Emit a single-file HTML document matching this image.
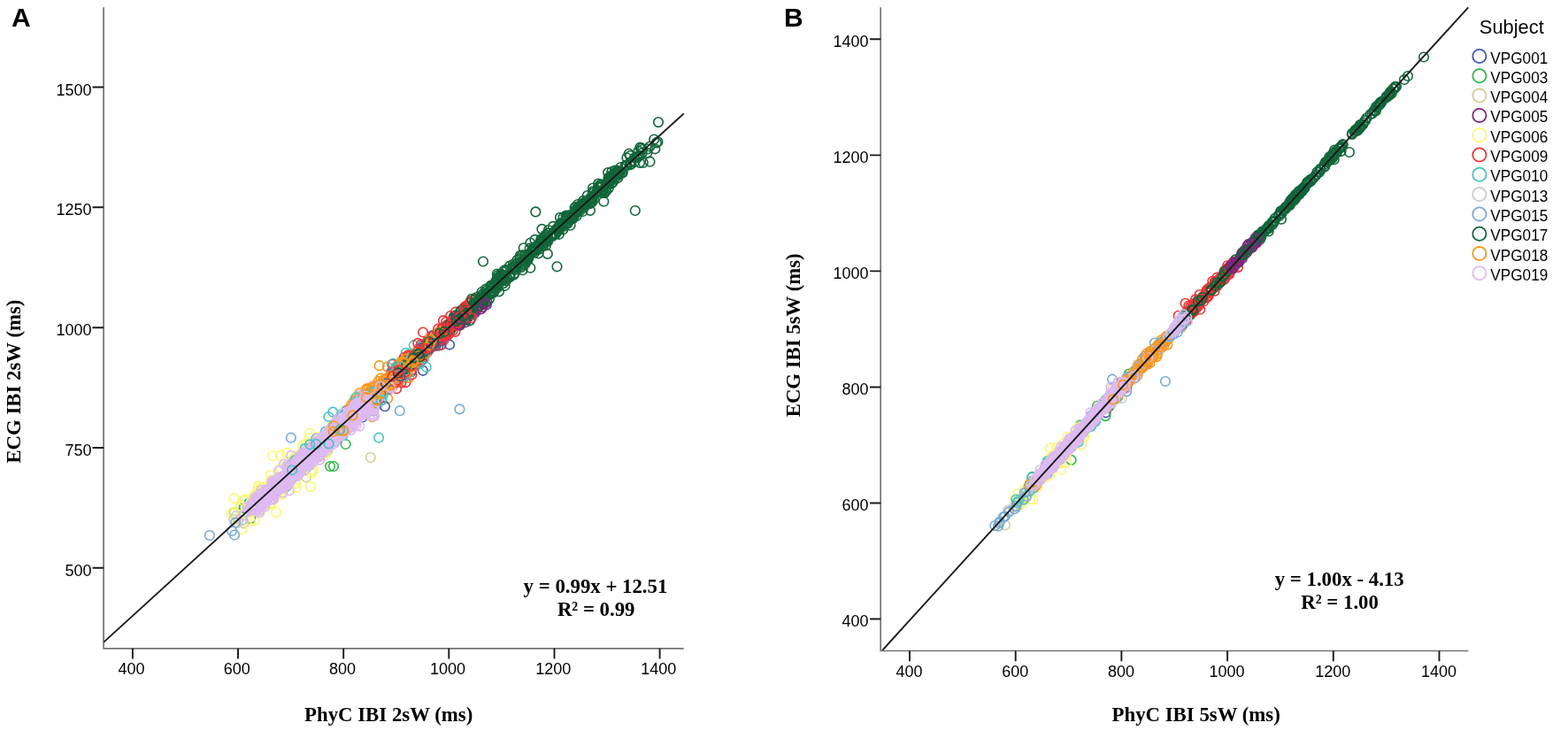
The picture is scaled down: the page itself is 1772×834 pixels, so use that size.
<!DOCTYPE html><html><head><meta charset="utf-8"><style>html,body{margin:0;padding:0;background:#fff;overflow:hidden;}svg{display:block}.t{font-family:"Liberation Sans",Arial,sans-serif;font-size:18px;fill:#000}.s{font-family:"Liberation Serif","Times New Roman",serif;font-weight:bold;font-size:22.8px;fill:#000}.p{font-family:"Liberation Sans",Arial,sans-serif;font-weight:bold;font-size:30px;fill:#000}.l{font-family:"Liberation Sans",Arial,sans-serif;font-size:18px;fill:#000}</style></head><body>
<svg width="1772" height="834" viewBox="0 0 1772 834">
<rect width="100%" height="100%" fill="#fff"/>
<defs>
<marker id="m0" markerUnits="userSpaceOnUse" markerWidth="16" markerHeight="16" refX="8" refY="8" overflow="visible"><circle cx="8" cy="8" r="5.3" fill="none" stroke="#3E58AC" stroke-width="1.6"/></marker>
<marker id="m1" markerUnits="userSpaceOnUse" markerWidth="16" markerHeight="16" refX="8" refY="8" overflow="visible"><circle cx="8" cy="8" r="5.3" fill="none" stroke="#2EB848" stroke-width="1.6"/></marker>
<marker id="m2" markerUnits="userSpaceOnUse" markerWidth="16" markerHeight="16" refX="8" refY="8" overflow="visible"><circle cx="8" cy="8" r="5.3" fill="none" stroke="#D3CE97" stroke-width="1.6"/></marker>
<marker id="m3" markerUnits="userSpaceOnUse" markerWidth="16" markerHeight="16" refX="8" refY="8" overflow="visible"><circle cx="8" cy="8" r="5.3" fill="none" stroke="#7C287D" stroke-width="1.6"/></marker>
<marker id="m4" markerUnits="userSpaceOnUse" markerWidth="16" markerHeight="16" refX="8" refY="8" overflow="visible"><circle cx="8" cy="8" r="5.3" fill="none" stroke="#FBF873" stroke-width="1.6"/></marker>
<marker id="m5" markerUnits="userSpaceOnUse" markerWidth="16" markerHeight="16" refX="8" refY="8" overflow="visible"><circle cx="8" cy="8" r="5.3" fill="none" stroke="#EF3338" stroke-width="1.6"/></marker>
<marker id="m6" markerUnits="userSpaceOnUse" markerWidth="16" markerHeight="16" refX="8" refY="8" overflow="visible"><circle cx="8" cy="8" r="5.3" fill="none" stroke="#48C2C5" stroke-width="1.6"/></marker>
<marker id="m7" markerUnits="userSpaceOnUse" markerWidth="16" markerHeight="16" refX="8" refY="8" overflow="visible"><circle cx="8" cy="8" r="5.3" fill="none" stroke="#CCCCCC" stroke-width="1.6"/></marker>
<marker id="m8" markerUnits="userSpaceOnUse" markerWidth="16" markerHeight="16" refX="8" refY="8" overflow="visible"><circle cx="8" cy="8" r="5.3" fill="none" stroke="#7AAAD5" stroke-width="1.6"/></marker>
<marker id="m9" markerUnits="userSpaceOnUse" markerWidth="16" markerHeight="16" refX="8" refY="8" overflow="visible"><circle cx="8" cy="8" r="5.3" fill="none" stroke="#12663A" stroke-width="1.6"/></marker>
<marker id="m10" markerUnits="userSpaceOnUse" markerWidth="16" markerHeight="16" refX="8" refY="8" overflow="visible"><circle cx="8" cy="8" r="5.3" fill="none" stroke="#F8981D" stroke-width="1.6"/></marker>
<marker id="m11" markerUnits="userSpaceOnUse" markerWidth="16" markerHeight="16" refX="8" refY="8" overflow="visible"><circle cx="8" cy="8" r="5.3" fill="none" stroke="#DDBAF1" stroke-width="1.6"/></marker>
</defs>
<path d="M408.4 460.3" fill="none" stroke="none" marker-start="url(#m11)" marker-mid="url(#m11)" marker-end="url(#m11)"/>
<path d="M425.9 437.2" fill="none" stroke="none" marker-start="url(#m10)" marker-mid="url(#m10)" marker-end="url(#m10)"/>
<path d="M457.7 416.3" fill="none" stroke="none" marker-start="url(#m9)" marker-mid="url(#m9)" marker-end="url(#m9)"/>
<path d="M406.5 463.5" fill="none" stroke="none" marker-start="url(#m11)" marker-mid="url(#m11)" marker-end="url(#m11)"/>
<path d="M497.6 385.6" fill="none" stroke="none" marker-start="url(#m5)" marker-mid="url(#m5)" marker-end="url(#m5)"/>
<path d="M413.4 455.2" fill="none" stroke="none" marker-start="url(#m10)" marker-mid="url(#m10)" marker-end="url(#m10)"/>
<path d="M443.3 411.7" fill="none" stroke="none" marker-start="url(#m5)" marker-mid="url(#m5)" marker-end="url(#m5)"/>
<path d="M408.8 462.1" fill="none" stroke="none" marker-start="url(#m10)" marker-mid="url(#m10)" marker-end="url(#m10)"/>
<path d="M500.7 378.4" fill="none" stroke="none" marker-start="url(#m0)" marker-mid="url(#m0)" marker-end="url(#m0)"/>
<path d="M367.7 487.9" fill="none" stroke="none" marker-start="url(#m6)" marker-mid="url(#m6)" marker-end="url(#m6)"/>
<path d="M409.2 455.8 443.2 420.5 460.3 416.8 459.1 416.7" fill="none" stroke="none" marker-start="url(#m10)" marker-mid="url(#m10)" marker-end="url(#m10)"/>
<path d="M408.7 457.7" fill="none" stroke="none" marker-start="url(#m11)" marker-mid="url(#m11)" marker-end="url(#m11)"/>
<path d="M457.1 423.2" fill="none" stroke="none" marker-start="url(#m6)" marker-mid="url(#m6)" marker-end="url(#m6)"/>
<path d="M482.1 394.2" fill="none" stroke="none" marker-start="url(#m10)" marker-mid="url(#m10)" marker-end="url(#m10)"/>
<path d="M495.5 380.9" fill="none" stroke="none" marker-start="url(#m9)" marker-mid="url(#m9)" marker-end="url(#m9)"/>
<path d="M412.2 449.2" fill="none" stroke="none" marker-start="url(#m6)" marker-mid="url(#m6)" marker-end="url(#m6)"/>
<path d="M526 364.2" fill="none" stroke="none" marker-start="url(#m3)" marker-mid="url(#m3)" marker-end="url(#m3)"/>
<path d="M473.5 393.2 461.6 410.6 526.4 345.8" fill="none" stroke="none" marker-start="url(#m5)" marker-mid="url(#m5)" marker-end="url(#m5)"/>
<path d="M488.8 379" fill="none" stroke="none" marker-start="url(#m0)" marker-mid="url(#m0)" marker-end="url(#m0)"/>
<path d="M382 477.2" fill="none" stroke="none" marker-start="url(#m6)" marker-mid="url(#m6)" marker-end="url(#m6)"/>
<path d="M497.3 378.3 516.4 363.4" fill="none" stroke="none" marker-start="url(#m5)" marker-mid="url(#m5)" marker-end="url(#m5)"/>
<path d="M331.3 527.2 453.2 419.3" fill="none" stroke="none" marker-start="url(#m6)" marker-mid="url(#m6)" marker-end="url(#m6)"/>
<path d="M490 390.5" fill="none" stroke="none" marker-start="url(#m5)" marker-mid="url(#m5)" marker-end="url(#m5)"/>
<path d="M420 438.5 422.2 454.8 401.3 464.9 413.5 452.4" fill="none" stroke="none" marker-start="url(#m10)" marker-mid="url(#m10)" marker-end="url(#m10)"/>
<path d="M433.4 437" fill="none" stroke="none" marker-start="url(#m11)" marker-mid="url(#m11)" marker-end="url(#m11)"/>
<path d="M478 390" fill="none" stroke="none" marker-start="url(#m5)" marker-mid="url(#m5)" marker-end="url(#m5)"/>
<path d="M386.3 478.4" fill="none" stroke="none" marker-start="url(#m6)" marker-mid="url(#m6)" marker-end="url(#m6)"/>
<path d="M407.9 460.3 431.6 439.4" fill="none" stroke="none" marker-start="url(#m11)" marker-mid="url(#m11)" marker-end="url(#m11)"/>
<path d="M496.5 382.2" fill="none" stroke="none" marker-start="url(#m10)" marker-mid="url(#m10)" marker-end="url(#m10)"/>
<path d="M521.3 357.5" fill="none" stroke="none" marker-start="url(#m5)" marker-mid="url(#m5)" marker-end="url(#m5)"/>
<path d="M446.9 419.6" fill="none" stroke="none" marker-start="url(#m10)" marker-mid="url(#m10)" marker-end="url(#m10)"/>
<path d="M419.1 453.6" fill="none" stroke="none" marker-start="url(#m11)" marker-mid="url(#m11)" marker-end="url(#m11)"/>
<path d="M505.1 367" fill="none" stroke="none" marker-start="url(#m5)" marker-mid="url(#m5)" marker-end="url(#m5)"/>
<path d="M406.1 460" fill="none" stroke="none" marker-start="url(#m11)" marker-mid="url(#m11)" marker-end="url(#m11)"/>
<path d="M483 393.5" fill="none" stroke="none" marker-start="url(#m9)" marker-mid="url(#m9)" marker-end="url(#m9)"/>
<path d="M442.1 429.1" fill="none" stroke="none" marker-start="url(#m5)" marker-mid="url(#m5)" marker-end="url(#m5)"/>
<path d="M453.4 432.5" fill="none" stroke="none" marker-start="url(#m11)" marker-mid="url(#m11)" marker-end="url(#m11)"/>
<path d="M459.4 411.8" fill="none" stroke="none" marker-start="url(#m10)" marker-mid="url(#m10)" marker-end="url(#m10)"/>
<path d="M464.6 420.1" fill="none" stroke="none" marker-start="url(#m0)" marker-mid="url(#m0)" marker-end="url(#m0)"/>
<path d="M402.5 457.6 406.2 465.4 393.3 476.3" fill="none" stroke="none" marker-start="url(#m10)" marker-mid="url(#m10)" marker-end="url(#m10)"/>
<path d="M356.8 512.1" fill="none" stroke="none" marker-start="url(#m6)" marker-mid="url(#m6)" marker-end="url(#m6)"/>
<path d="M434.8 437.7" fill="none" stroke="none" marker-start="url(#m11)" marker-mid="url(#m11)" marker-end="url(#m11)"/>
<path d="M387.9 484.7" fill="none" stroke="none" marker-start="url(#m10)" marker-mid="url(#m10)" marker-end="url(#m10)"/>
<path d="M329.4 530.8" fill="none" stroke="none" marker-start="url(#m6)" marker-mid="url(#m6)" marker-end="url(#m6)"/>
<path d="M489.5 391.7" fill="none" stroke="none" marker-start="url(#m10)" marker-mid="url(#m10)" marker-end="url(#m10)"/>
<path d="M446.2 425" fill="none" stroke="none" marker-start="url(#m9)" marker-mid="url(#m9)" marker-end="url(#m9)"/>
<path d="M410.9 461.3" fill="none" stroke="none" marker-start="url(#m10)" marker-mid="url(#m10)" marker-end="url(#m10)"/>
<path d="M472.4 401.5" fill="none" stroke="none" marker-start="url(#m5)" marker-mid="url(#m5)" marker-end="url(#m5)"/>
<path d="M433 434.1" fill="none" stroke="none" marker-start="url(#m11)" marker-mid="url(#m11)" marker-end="url(#m11)"/>
<path d="M494.1 386.2" fill="none" stroke="none" marker-start="url(#m5)" marker-mid="url(#m5)" marker-end="url(#m5)"/>
<path d="M487.4 386" fill="none" stroke="none" marker-start="url(#m10)" marker-mid="url(#m10)" marker-end="url(#m10)"/>
<path d="M524.2 350.4" fill="none" stroke="none" marker-start="url(#m5)" marker-mid="url(#m5)" marker-end="url(#m5)"/>
<path d="M437 427.8" fill="none" stroke="none" marker-start="url(#m10)" marker-mid="url(#m10)" marker-end="url(#m10)"/>
<path d="M512.7 358 514.7 359.1" fill="none" stroke="none" marker-start="url(#m9)" marker-mid="url(#m9)" marker-end="url(#m9)"/>
<path d="M478 375.5" fill="none" stroke="none" marker-start="url(#m5)" marker-mid="url(#m5)" marker-end="url(#m5)"/>
<path d="M420.7 441.3" fill="none" stroke="none" marker-start="url(#m10)" marker-mid="url(#m10)" marker-end="url(#m10)"/>
<path d="M499.9 370.6" fill="none" stroke="none" marker-start="url(#m5)" marker-mid="url(#m5)" marker-end="url(#m5)"/>
<path d="M425.8 439.8" fill="none" stroke="none" marker-start="url(#m6)" marker-mid="url(#m6)" marker-end="url(#m6)"/>
<path d="M403.7 460.5" fill="none" stroke="none" marker-start="url(#m10)" marker-mid="url(#m10)" marker-end="url(#m10)"/>
<path d="M526.1 356.9" fill="none" stroke="none" marker-start="url(#m9)" marker-mid="url(#m9)" marker-end="url(#m9)"/>
<path d="M467.6 409" fill="none" stroke="none" marker-start="url(#m10)" marker-mid="url(#m10)" marker-end="url(#m10)"/>
<path d="M286.5 574.9 339.1 518.3 411.8 448.2 280.7 575.3 418 450.3 351.7 509.9 295.4 569.3 340.9 532.3 303.8 553.1 380.7 489.9 356.4 513.5 318.9 546.2 315.2 551.6 399.5 466.1 388.3 483.1 344.4 531 336.2 531 380.1 482.4 417.6 455.7 290.4 575.6 299.2 562.1 325.8 532.2 353.3 520 281.6 568.3 284.3 576.5 306.8 552.9 327.3 526.9 385.9 488.3 364.5 502.5 275.7 574.2 377 527 373 527 390.6 502 275.8 573.2 283.3 586" fill="none" stroke="none" marker-start="url(#m1)" marker-mid="url(#m1)" marker-end="url(#m1)"/>
<path d="M410.9 456.6" fill="none" stroke="none" marker-start="url(#m11)" marker-mid="url(#m11)" marker-end="url(#m11)"/>
<path d="M483.9 388.7" fill="none" stroke="none" marker-start="url(#m5)" marker-mid="url(#m5)" marker-end="url(#m5)"/>
<path d="M421.4 457.3" fill="none" stroke="none" marker-start="url(#m11)" marker-mid="url(#m11)" marker-end="url(#m11)"/>
<path d="M419.5 451.8" fill="none" stroke="none" marker-start="url(#m10)" marker-mid="url(#m10)" marker-end="url(#m10)"/>
<path d="M476.6 399.8" fill="none" stroke="none" marker-start="url(#m9)" marker-mid="url(#m9)" marker-end="url(#m9)"/>
<path d="M398.5 473.4" fill="none" stroke="none" marker-start="url(#m6)" marker-mid="url(#m6)" marker-end="url(#m6)"/>
<path d="M522.6 355.3" fill="none" stroke="none" marker-start="url(#m5)" marker-mid="url(#m5)" marker-end="url(#m5)"/>
<path d="M473.9 403.8" fill="none" stroke="none" marker-start="url(#m9)" marker-mid="url(#m9)" marker-end="url(#m9)"/>
<path d="M391.9 471.8" fill="none" stroke="none" marker-start="url(#m6)" marker-mid="url(#m6)" marker-end="url(#m6)"/>
<path d="M409.9 449.2" fill="none" stroke="none" marker-start="url(#m0)" marker-mid="url(#m0)" marker-end="url(#m0)"/>
<path d="M385.9 479.5" fill="none" stroke="none" marker-start="url(#m6)" marker-mid="url(#m6)" marker-end="url(#m6)"/>
<path d="M423.9 450.4" fill="none" stroke="none" marker-start="url(#m11)" marker-mid="url(#m11)" marker-end="url(#m11)"/>
<path d="M414.2 451.6" fill="none" stroke="none" marker-start="url(#m10)" marker-mid="url(#m10)" marker-end="url(#m10)"/>
<path d="M413.6 451.3" fill="none" stroke="none" marker-start="url(#m11)" marker-mid="url(#m11)" marker-end="url(#m11)"/>
<path d="M462.1 415.3" fill="none" stroke="none" marker-start="url(#m0)" marker-mid="url(#m0)" marker-end="url(#m0)"/>
<path d="M343.9 514" fill="none" stroke="none" marker-start="url(#m6)" marker-mid="url(#m6)" marker-end="url(#m6)"/>
<path d="M458.1 412.7" fill="none" stroke="none" marker-start="url(#m10)" marker-mid="url(#m10)" marker-end="url(#m10)"/>
<path d="M362.7 508.8" fill="none" stroke="none" marker-start="url(#m6)" marker-mid="url(#m6)" marker-end="url(#m6)"/>
<path d="M473.6 399.3" fill="none" stroke="none" marker-start="url(#m5)" marker-mid="url(#m5)" marker-end="url(#m5)"/>
<path d="M414.9 459.9" fill="none" stroke="none" marker-start="url(#m10)" marker-mid="url(#m10)" marker-end="url(#m10)"/>
<path d="M397.9 466.2" fill="none" stroke="none" marker-start="url(#m6)" marker-mid="url(#m6)" marker-end="url(#m6)"/>
<path d="M465.7 412.1" fill="none" stroke="none" marker-start="url(#m9)" marker-mid="url(#m9)" marker-end="url(#m9)"/>
<path d="M425 441.5" fill="none" stroke="none" marker-start="url(#m10)" marker-mid="url(#m10)" marker-end="url(#m10)"/>
<path d="M545.9 343.6" fill="none" stroke="none" marker-start="url(#m3)" marker-mid="url(#m3)" marker-end="url(#m3)"/>
<path d="M458.6 417.2" fill="none" stroke="none" marker-start="url(#m10)" marker-mid="url(#m10)" marker-end="url(#m10)"/>
<path d="M363.5 501.3" fill="none" stroke="none" marker-start="url(#m6)" marker-mid="url(#m6)" marker-end="url(#m6)"/>
<path d="M480.1 391.9" fill="none" stroke="none" marker-start="url(#m5)" marker-mid="url(#m5)" marker-end="url(#m5)"/>
<path d="M499.8 378.4" fill="none" stroke="none" marker-start="url(#m9)" marker-mid="url(#m9)" marker-end="url(#m9)"/>
<path d="M404.5 456.2" fill="none" stroke="none" marker-start="url(#m0)" marker-mid="url(#m0)" marker-end="url(#m0)"/>
<path d="M454 407.8 378.5 490" fill="none" stroke="none" marker-start="url(#m10)" marker-mid="url(#m10)" marker-end="url(#m10)"/>
<path d="M394.7 482" fill="none" stroke="none" marker-start="url(#m6)" marker-mid="url(#m6)" marker-end="url(#m6)"/>
<path d="M463.9 415" fill="none" stroke="none" marker-start="url(#m5)" marker-mid="url(#m5)" marker-end="url(#m5)"/>
<path d="M432 437.1 435.9 437.5" fill="none" stroke="none" marker-start="url(#m10)" marker-mid="url(#m10)" marker-end="url(#m10)"/>
<path d="M449.6 422.5" fill="none" stroke="none" marker-start="url(#m9)" marker-mid="url(#m9)" marker-end="url(#m9)"/>
<path d="M537.3 341.6 458.4 419.6" fill="none" stroke="none" marker-start="url(#m5)" marker-mid="url(#m5)" marker-end="url(#m5)"/>
<path d="M449.2 430.9" fill="none" stroke="none" marker-start="url(#m10)" marker-mid="url(#m10)" marker-end="url(#m10)"/>
<path d="M502.8 375.6" fill="none" stroke="none" marker-start="url(#m9)" marker-mid="url(#m9)" marker-end="url(#m9)"/>
<path d="M415 446.3" fill="none" stroke="none" marker-start="url(#m10)" marker-mid="url(#m10)" marker-end="url(#m10)"/>
<path d="M442.2 431.6" fill="none" stroke="none" marker-start="url(#m5)" marker-mid="url(#m5)" marker-end="url(#m5)"/>
<path d="M431.7 452.1" fill="none" stroke="none" marker-start="url(#m6)" marker-mid="url(#m6)" marker-end="url(#m6)"/>
<path d="M415.6 459.6" fill="none" stroke="none" marker-start="url(#m10)" marker-mid="url(#m10)" marker-end="url(#m10)"/>
<path d="M491.4 381.5" fill="none" stroke="none" marker-start="url(#m9)" marker-mid="url(#m9)" marker-end="url(#m9)"/>
<path d="M436.6 439.8" fill="none" stroke="none" marker-start="url(#m10)" marker-mid="url(#m10)" marker-end="url(#m10)"/>
<path d="M410.4 450.2" fill="none" stroke="none" marker-start="url(#m11)" marker-mid="url(#m11)" marker-end="url(#m11)"/>
<path d="M468.3 403.5" fill="none" stroke="none" marker-start="url(#m10)" marker-mid="url(#m10)" marker-end="url(#m10)"/>
<path d="M460.1 412.6" fill="none" stroke="none" marker-start="url(#m9)" marker-mid="url(#m9)" marker-end="url(#m9)"/>
<path d="M431.5 439.9 371.1 503.4" fill="none" stroke="none" marker-start="url(#m6)" marker-mid="url(#m6)" marker-end="url(#m6)"/>
<path d="M481.5 394.9" fill="none" stroke="none" marker-start="url(#m5)" marker-mid="url(#m5)" marker-end="url(#m5)"/>
<path d="M492.6 390.3" fill="none" stroke="none" marker-start="url(#m9)" marker-mid="url(#m9)" marker-end="url(#m9)"/>
<path d="M543.9 339.7" fill="none" stroke="none" marker-start="url(#m3)" marker-mid="url(#m3)" marker-end="url(#m3)"/>
<path d="M471 405.9" fill="none" stroke="none" marker-start="url(#m0)" marker-mid="url(#m0)" marker-end="url(#m0)"/>
<path d="M451.1 425.6" fill="none" stroke="none" marker-start="url(#m6)" marker-mid="url(#m6)" marker-end="url(#m6)"/>
<path d="M414.9 449.3" fill="none" stroke="none" marker-start="url(#m11)" marker-mid="url(#m11)" marker-end="url(#m11)"/>
<path d="M409.4 471.7" fill="none" stroke="none" marker-start="url(#m0)" marker-mid="url(#m0)" marker-end="url(#m0)"/>
<path d="M451.2 430.8" fill="none" stroke="none" marker-start="url(#m10)" marker-mid="url(#m10)" marker-end="url(#m10)"/>
<path d="M523.4 355.2" fill="none" stroke="none" marker-start="url(#m9)" marker-mid="url(#m9)" marker-end="url(#m9)"/>
<path d="M467.6 402.7" fill="none" stroke="none" marker-start="url(#m10)" marker-mid="url(#m10)" marker-end="url(#m10)"/>
<path d="M419.8 447.8 407.3 460.2" fill="none" stroke="none" marker-start="url(#m11)" marker-mid="url(#m11)" marker-end="url(#m11)"/>
<path d="M479 398.7" fill="none" stroke="none" marker-start="url(#m9)" marker-mid="url(#m9)" marker-end="url(#m9)"/>
<path d="M508.5 373.7 476 402.5 458.5 432.1" fill="none" stroke="none" marker-start="url(#m5)" marker-mid="url(#m5)" marker-end="url(#m5)"/>
<path d="M427.1 439.9" fill="none" stroke="none" marker-start="url(#m10)" marker-mid="url(#m10)" marker-end="url(#m10)"/>
<path d="M343.6 516.2" fill="none" stroke="none" marker-start="url(#m6)" marker-mid="url(#m6)" marker-end="url(#m6)"/>
<path d="M450.9 421 412.9 468" fill="none" stroke="none" marker-start="url(#m0)" marker-mid="url(#m0)" marker-end="url(#m0)"/>
<path d="M471.8 405.1" fill="none" stroke="none" marker-start="url(#m9)" marker-mid="url(#m9)" marker-end="url(#m9)"/>
<path d="M413.1 460.6" fill="none" stroke="none" marker-start="url(#m11)" marker-mid="url(#m11)" marker-end="url(#m11)"/>
<path d="M374.1 488.4 458.3 415.3" fill="none" stroke="none" marker-start="url(#m10)" marker-mid="url(#m10)" marker-end="url(#m10)"/>
<path d="M482.7 392.4" fill="none" stroke="none" marker-start="url(#m5)" marker-mid="url(#m5)" marker-end="url(#m5)"/>
<path d="M284.5 569.2 392.4 476.6 326.2 525.7 313.8 554.6 286.2 568.6 340.4 512.7 318.2 541.2 281 574.1 269.8 587.5 314.4 539.1 344.9 520.6 346 539.2 382.6 476 389.1 480 390.5 474.8 373.5 493.3 324 526.2 332.2 522.8 320 543.7 318.8 541.7 275.6 591.3 370.7 490.4 418.7 517 265 579.7" fill="none" stroke="none" marker-start="url(#m2)" marker-mid="url(#m2)" marker-end="url(#m2)"/>
<path d="M406.5 444" fill="none" stroke="none" marker-start="url(#m10)" marker-mid="url(#m10)" marker-end="url(#m10)"/>
<path d="M456.4 412.1" fill="none" stroke="none" marker-start="url(#m9)" marker-mid="url(#m9)" marker-end="url(#m9)"/>
<path d="M411.1 461.9" fill="none" stroke="none" marker-start="url(#m10)" marker-mid="url(#m10)" marker-end="url(#m10)"/>
<path d="M415.9 453.4" fill="none" stroke="none" marker-start="url(#m0)" marker-mid="url(#m0)" marker-end="url(#m0)"/>
<path d="M440.9 431.2 533.2 339.3" fill="none" stroke="none" marker-start="url(#m5)" marker-mid="url(#m5)" marker-end="url(#m5)"/>
<path d="M448.3 430.7" fill="none" stroke="none" marker-start="url(#m10)" marker-mid="url(#m10)" marker-end="url(#m10)"/>
<path d="M389.5 478.3" fill="none" stroke="none" marker-start="url(#m6)" marker-mid="url(#m6)" marker-end="url(#m6)"/>
<path d="M511.3 367.4" fill="none" stroke="none" marker-start="url(#m9)" marker-mid="url(#m9)" marker-end="url(#m9)"/>
<path d="M337.6 516.7" fill="none" stroke="none" marker-start="url(#m6)" marker-mid="url(#m6)" marker-end="url(#m6)"/>
<path d="M499.7 372" fill="none" stroke="none" marker-start="url(#m5)" marker-mid="url(#m5)" marker-end="url(#m5)"/>
<path d="M413.6 461.3" fill="none" stroke="none" marker-start="url(#m10)" marker-mid="url(#m10)" marker-end="url(#m10)"/>
<path d="M404.5 461.1" fill="none" stroke="none" marker-start="url(#m11)" marker-mid="url(#m11)" marker-end="url(#m11)"/>
<path d="M538.7 349.7" fill="none" stroke="none" marker-start="url(#m3)" marker-mid="url(#m3)" marker-end="url(#m3)"/>
<path d="M429.1 438.1" fill="none" stroke="none" marker-start="url(#m11)" marker-mid="url(#m11)" marker-end="url(#m11)"/>
<path d="M527.5 350.3" fill="none" stroke="none" marker-start="url(#m3)" marker-mid="url(#m3)" marker-end="url(#m3)"/>
<path d="M431.3 432.9 415.1 454.8" fill="none" stroke="none" marker-start="url(#m11)" marker-mid="url(#m11)" marker-end="url(#m11)"/>
<path d="M407.2 462.9" fill="none" stroke="none" marker-start="url(#m6)" marker-mid="url(#m6)" marker-end="url(#m6)"/>
<path d="M519.1 356.9" fill="none" stroke="none" marker-start="url(#m9)" marker-mid="url(#m9)" marker-end="url(#m9)"/>
<path d="M437.8 414.5" fill="none" stroke="none" marker-start="url(#m10)" marker-mid="url(#m10)" marker-end="url(#m10)"/>
<path d="M431.7 438.1" fill="none" stroke="none" marker-start="url(#m11)" marker-mid="url(#m11)" marker-end="url(#m11)"/>
<path d="M420.1 448.7 442.6 435.3 401.1 466.5 380 484.6" fill="none" stroke="none" marker-start="url(#m10)" marker-mid="url(#m10)" marker-end="url(#m10)"/>
<path d="M482.1 390.1" fill="none" stroke="none" marker-start="url(#m5)" marker-mid="url(#m5)" marker-end="url(#m5)"/>
<path d="M480.2 394.4" fill="none" stroke="none" marker-start="url(#m10)" marker-mid="url(#m10)" marker-end="url(#m10)"/>
<path d="M419.8 451.1" fill="none" stroke="none" marker-start="url(#m11)" marker-mid="url(#m11)" marker-end="url(#m11)"/>
<path d="M462.8 415.9" fill="none" stroke="none" marker-start="url(#m10)" marker-mid="url(#m10)" marker-end="url(#m10)"/>
<path d="M531.8 342.7 465.4 417.9 520.3 359.2" fill="none" stroke="none" marker-start="url(#m5)" marker-mid="url(#m5)" marker-end="url(#m5)"/>
<path d="M474.5 392.7 453.8 426.3" fill="none" stroke="none" marker-start="url(#m6)" marker-mid="url(#m6)" marker-end="url(#m6)"/>
<path d="M438.9 426.4" fill="none" stroke="none" marker-start="url(#m10)" marker-mid="url(#m10)" marker-end="url(#m10)"/>
<path d="M504.1 371.3" fill="none" stroke="none" marker-start="url(#m5)" marker-mid="url(#m5)" marker-end="url(#m5)"/>
<path d="M448.2 424.3 418.4 450.9" fill="none" stroke="none" marker-start="url(#m10)" marker-mid="url(#m10)" marker-end="url(#m10)"/>
<path d="M421.7 464.7" fill="none" stroke="none" marker-start="url(#m6)" marker-mid="url(#m6)" marker-end="url(#m6)"/>
<path d="M521.2 358" fill="none" stroke="none" marker-start="url(#m9)" marker-mid="url(#m9)" marker-end="url(#m9)"/>
<path d="M388.5 475.6" fill="none" stroke="none" marker-start="url(#m6)" marker-mid="url(#m6)" marker-end="url(#m6)"/>
<path d="M517.4 360.6" fill="none" stroke="none" marker-start="url(#m9)" marker-mid="url(#m9)" marker-end="url(#m9)"/>
<path d="M419.3 451.3" fill="none" stroke="none" marker-start="url(#m10)" marker-mid="url(#m10)" marker-end="url(#m10)"/>
<path d="M419.7 447" fill="none" stroke="none" marker-start="url(#m6)" marker-mid="url(#m6)" marker-end="url(#m6)"/>
<path d="M482.2 396.5" fill="none" stroke="none" marker-start="url(#m10)" marker-mid="url(#m10)" marker-end="url(#m10)"/>
<path d="M434.5 433.8" fill="none" stroke="none" marker-start="url(#m6)" marker-mid="url(#m6)" marker-end="url(#m6)"/>
<path d="M408.2 457.3" fill="none" stroke="none" marker-start="url(#m11)" marker-mid="url(#m11)" marker-end="url(#m11)"/>
<path d="M541.1 342" fill="none" stroke="none" marker-start="url(#m5)" marker-mid="url(#m5)" marker-end="url(#m5)"/>
<path d="M396.9 457.9" fill="none" stroke="none" marker-start="url(#m10)" marker-mid="url(#m10)" marker-end="url(#m10)"/>
<path d="M417.4 449.8" fill="none" stroke="none" marker-start="url(#m11)" marker-mid="url(#m11)" marker-end="url(#m11)"/>
<path d="M380.5 485.8" fill="none" stroke="none" marker-start="url(#m10)" marker-mid="url(#m10)" marker-end="url(#m10)"/>
<path d="M478.8 394.4" fill="none" stroke="none" marker-start="url(#m9)" marker-mid="url(#m9)" marker-end="url(#m9)"/>
<path d="M536 351.5" fill="none" stroke="none" marker-start="url(#m3)" marker-mid="url(#m3)" marker-end="url(#m3)"/>
<path d="M473.4 408.6 479.8 393.5" fill="none" stroke="none" marker-start="url(#m5)" marker-mid="url(#m5)" marker-end="url(#m5)"/>
<path d="M473.7 407.4 460.6 403.5" fill="none" stroke="none" marker-start="url(#m10)" marker-mid="url(#m10)" marker-end="url(#m10)"/>
<path d="M367 510.9" fill="none" stroke="none" marker-start="url(#m6)" marker-mid="url(#m6)" marker-end="url(#m6)"/>
<path d="M449.8 423.9" fill="none" stroke="none" marker-start="url(#m5)" marker-mid="url(#m5)" marker-end="url(#m5)"/>
<path d="M517.4 360.7" fill="none" stroke="none" marker-start="url(#m9)" marker-mid="url(#m9)" marker-end="url(#m9)"/>
<path d="M409.3 456.7 450.7 420.6 432.8 431.8" fill="none" stroke="none" marker-start="url(#m10)" marker-mid="url(#m10)" marker-end="url(#m10)"/>
<path d="M415.7 456" fill="none" stroke="none" marker-start="url(#m6)" marker-mid="url(#m6)" marker-end="url(#m6)"/>
<path d="M474.3 411.1" fill="none" stroke="none" marker-start="url(#m10)" marker-mid="url(#m10)" marker-end="url(#m10)"/>
<path d="M426.9 457.6" fill="none" stroke="none" marker-start="url(#m11)" marker-mid="url(#m11)" marker-end="url(#m11)"/>
<path d="M464.2 403" fill="none" stroke="none" marker-start="url(#m9)" marker-mid="url(#m9)" marker-end="url(#m9)"/>
<path d="M441.1 428.6" fill="none" stroke="none" marker-start="url(#m10)" marker-mid="url(#m10)" marker-end="url(#m10)"/>
<path d="M429.3 440.8" fill="none" stroke="none" marker-start="url(#m6)" marker-mid="url(#m6)" marker-end="url(#m6)"/>
<path d="M447.6 417.4" fill="none" stroke="none" marker-start="url(#m10)" marker-mid="url(#m10)" marker-end="url(#m10)"/>
<path d="M493.6 382.4" fill="none" stroke="none" marker-start="url(#m5)" marker-mid="url(#m5)" marker-end="url(#m5)"/>
<path d="M409.5 464.9" fill="none" stroke="none" marker-start="url(#m11)" marker-mid="url(#m11)" marker-end="url(#m11)"/>
<path d="M476.7 400.3 462.5 402.1" fill="none" stroke="none" marker-start="url(#m5)" marker-mid="url(#m5)" marker-end="url(#m5)"/>
<path d="M403.3 457.4" fill="none" stroke="none" marker-start="url(#m10)" marker-mid="url(#m10)" marker-end="url(#m10)"/>
<path d="M406.7 446.7" fill="none" stroke="none" marker-start="url(#m6)" marker-mid="url(#m6)" marker-end="url(#m6)"/>
<path d="M416.9 459" fill="none" stroke="none" marker-start="url(#m11)" marker-mid="url(#m11)" marker-end="url(#m11)"/>
<path d="M407.9 460.6" fill="none" stroke="none" marker-start="url(#m10)" marker-mid="url(#m10)" marker-end="url(#m10)"/>
<path d="M494.9 377.7" fill="none" stroke="none" marker-start="url(#m5)" marker-mid="url(#m5)" marker-end="url(#m5)"/>
<path d="M339.5 521.8 417.8 450.4" fill="none" stroke="none" marker-start="url(#m6)" marker-mid="url(#m6)" marker-end="url(#m6)"/>
<path d="M438.1 450.3" fill="none" stroke="none" marker-start="url(#m10)" marker-mid="url(#m10)" marker-end="url(#m10)"/>
<path d="M448.1 439.2" fill="none" stroke="none" marker-start="url(#m5)" marker-mid="url(#m5)" marker-end="url(#m5)"/>
<path d="M417.1 460.9" fill="none" stroke="none" marker-start="url(#m0)" marker-mid="url(#m0)" marker-end="url(#m0)"/>
<path d="M418 452.9" fill="none" stroke="none" marker-start="url(#m10)" marker-mid="url(#m10)" marker-end="url(#m10)"/>
<path d="M360.9 507.8" fill="none" stroke="none" marker-start="url(#m6)" marker-mid="url(#m6)" marker-end="url(#m6)"/>
<path d="M469.9 408.7 465.7 408.9" fill="none" stroke="none" marker-start="url(#m5)" marker-mid="url(#m5)" marker-end="url(#m5)"/>
<path d="M512.5 366.1" fill="none" stroke="none" marker-start="url(#m9)" marker-mid="url(#m9)" marker-end="url(#m9)"/>
<path d="M425.1 442.9" fill="none" stroke="none" marker-start="url(#m11)" marker-mid="url(#m11)" marker-end="url(#m11)"/>
<path d="M508.6 366.8" fill="none" stroke="none" marker-start="url(#m9)" marker-mid="url(#m9)" marker-end="url(#m9)"/>
<path d="M441.3 426.7" fill="none" stroke="none" marker-start="url(#m10)" marker-mid="url(#m10)" marker-end="url(#m10)"/>
<path d="M371.4 471" fill="none" stroke="none" marker-start="url(#m6)" marker-mid="url(#m6)" marker-end="url(#m6)"/>
<path d="M526.9 357.2" fill="none" stroke="none" marker-start="url(#m3)" marker-mid="url(#m3)" marker-end="url(#m3)"/>
<path d="M385.1 489.8" fill="none" stroke="none" marker-start="url(#m6)" marker-mid="url(#m6)" marker-end="url(#m6)"/>
<path d="M511.7 373.6" fill="none" stroke="none" marker-start="url(#m5)" marker-mid="url(#m5)" marker-end="url(#m5)"/>
<path d="M472.1 404.4 451 420.6" fill="none" stroke="none" marker-start="url(#m10)" marker-mid="url(#m10)" marker-end="url(#m10)"/>
<path d="M507.1 370.7" fill="none" stroke="none" marker-start="url(#m5)" marker-mid="url(#m5)" marker-end="url(#m5)"/>
<path d="M404.5 462.4" fill="none" stroke="none" marker-start="url(#m10)" marker-mid="url(#m10)" marker-end="url(#m10)"/>
<path d="M533.9 344.9" fill="none" stroke="none" marker-start="url(#m5)" marker-mid="url(#m5)" marker-end="url(#m5)"/>
<path d="M528.6 354.9" fill="none" stroke="none" marker-start="url(#m3)" marker-mid="url(#m3)" marker-end="url(#m3)"/>
<path d="M437.6 436" fill="none" stroke="none" marker-start="url(#m11)" marker-mid="url(#m11)" marker-end="url(#m11)"/>
<path d="M431.7 438 455.7 421.3 491.4 383.4" fill="none" stroke="none" marker-start="url(#m10)" marker-mid="url(#m10)" marker-end="url(#m10)"/>
<path d="M443.8 426.7" fill="none" stroke="none" marker-start="url(#m5)" marker-mid="url(#m5)" marker-end="url(#m5)"/>
<path d="M386 468.2" fill="none" stroke="none" marker-start="url(#m6)" marker-mid="url(#m6)" marker-end="url(#m6)"/>
<path d="M418.3 451.6" fill="none" stroke="none" marker-start="url(#m10)" marker-mid="url(#m10)" marker-end="url(#m10)"/>
<path d="M536.6 337.5 491.2 383.9" fill="none" stroke="none" marker-start="url(#m5)" marker-mid="url(#m5)" marker-end="url(#m5)"/>
<path d="M453 412.9" fill="none" stroke="none" marker-start="url(#m10)" marker-mid="url(#m10)" marker-end="url(#m10)"/>
<path d="M460.7 410.4" fill="none" stroke="none" marker-start="url(#m5)" marker-mid="url(#m5)" marker-end="url(#m5)"/>
<path d="M478.5 397.3" fill="none" stroke="none" marker-start="url(#m9)" marker-mid="url(#m9)" marker-end="url(#m9)"/>
<path d="M467.2 401.6" fill="none" stroke="none" marker-start="url(#m5)" marker-mid="url(#m5)" marker-end="url(#m5)"/>
<path d="M404.5 463.4" fill="none" stroke="none" marker-start="url(#m10)" marker-mid="url(#m10)" marker-end="url(#m10)"/>
<path d="M536.7 353.6" fill="none" stroke="none" marker-start="url(#m3)" marker-mid="url(#m3)" marker-end="url(#m3)"/>
<path d="M387.5 491.7" fill="none" stroke="none" marker-start="url(#m6)" marker-mid="url(#m6)" marker-end="url(#m6)"/>
<path d="M478.7 397.4" fill="none" stroke="none" marker-start="url(#m9)" marker-mid="url(#m9)" marker-end="url(#m9)"/>
<path d="M465 406.1" fill="none" stroke="none" marker-start="url(#m0)" marker-mid="url(#m0)" marker-end="url(#m0)"/>
<path d="M436.5 435.6" fill="none" stroke="none" marker-start="url(#m10)" marker-mid="url(#m10)" marker-end="url(#m10)"/>
<path d="M510.1 371.6" fill="none" stroke="none" marker-start="url(#m5)" marker-mid="url(#m5)" marker-end="url(#m5)"/>
<path d="M508.9 364.6 500.3 375.9" fill="none" stroke="none" marker-start="url(#m9)" marker-mid="url(#m9)" marker-end="url(#m9)"/>
<path d="M418.4 441.6 433.3 430.5" fill="none" stroke="none" marker-start="url(#m10)" marker-mid="url(#m10)" marker-end="url(#m10)"/>
<path d="M456.9 403.9" fill="none" stroke="none" marker-start="url(#m5)" marker-mid="url(#m5)" marker-end="url(#m5)"/>
<path d="M420.2 446.3" fill="none" stroke="none" marker-start="url(#m11)" marker-mid="url(#m11)" marker-end="url(#m11)"/>
<path d="M451.1 416.8 428.7 440.2" fill="none" stroke="none" marker-start="url(#m10)" marker-mid="url(#m10)" marker-end="url(#m10)"/>
<path d="M468.2 412.8" fill="none" stroke="none" marker-start="url(#m5)" marker-mid="url(#m5)" marker-end="url(#m5)"/>
<path d="M494.6 385.6" fill="none" stroke="none" marker-start="url(#m9)" marker-mid="url(#m9)" marker-end="url(#m9)"/>
<path d="M411.8 462.1" fill="none" stroke="none" marker-start="url(#m11)" marker-mid="url(#m11)" marker-end="url(#m11)"/>
<path d="M460.4 414.1" fill="none" stroke="none" marker-start="url(#m10)" marker-mid="url(#m10)" marker-end="url(#m10)"/>
<path d="M464.9 408.8" fill="none" stroke="none" marker-start="url(#m5)" marker-mid="url(#m5)" marker-end="url(#m5)"/>
<path d="M337.2 529.8" fill="none" stroke="none" marker-start="url(#m6)" marker-mid="url(#m6)" marker-end="url(#m6)"/>
<path d="M470.5 403.5" fill="none" stroke="none" marker-start="url(#m5)" marker-mid="url(#m5)" marker-end="url(#m5)"/>
<path d="M445 422.7" fill="none" stroke="none" marker-start="url(#m11)" marker-mid="url(#m11)" marker-end="url(#m11)"/>
<path d="M345 530.6" fill="none" stroke="none" marker-start="url(#m6)" marker-mid="url(#m6)" marker-end="url(#m6)"/>
<path d="M495.8 379.8" fill="none" stroke="none" marker-start="url(#m5)" marker-mid="url(#m5)" marker-end="url(#m5)"/>
<path d="M466.7 401.7" fill="none" stroke="none" marker-start="url(#m10)" marker-mid="url(#m10)" marker-end="url(#m10)"/>
<path d="M417.8 444.4" fill="none" stroke="none" marker-start="url(#m6)" marker-mid="url(#m6)" marker-end="url(#m6)"/>
<path d="M404.1 466.7" fill="none" stroke="none" marker-start="url(#m0)" marker-mid="url(#m0)" marker-end="url(#m0)"/>
<path d="M388.5 479.3 385.8 477.5" fill="none" stroke="none" marker-start="url(#m10)" marker-mid="url(#m10)" marker-end="url(#m10)"/>
<path d="M475.8 399.8" fill="none" stroke="none" marker-start="url(#m6)" marker-mid="url(#m6)" marker-end="url(#m6)"/>
<path d="M457.3 425.8" fill="none" stroke="none" marker-start="url(#m5)" marker-mid="url(#m5)" marker-end="url(#m5)"/>
<path d="M401.6 455.7" fill="none" stroke="none" marker-start="url(#m11)" marker-mid="url(#m11)" marker-end="url(#m11)"/>
<path d="M291.8 567.5 272.6 572.1 277.4 581 293.8 579 274.4 565.7 287.6 560.6 308.9 564.4 295.6 557.5 264.6 563.2 271.3 571.8 304.9 560.8 287.7 587.9 290.4 555.8 273.3 598.2 278.6 573 282.2 571.3 296.1 561.3 299 558.6 262 580.6 290.7 571.9 286 565.8 267.4 586.6 291.7 554.4 284.4 570.5 307.1 560.2 263.1 578.8 276.7 564.5 283 588.8 284.7 563.1 293.6 575.9 305.9 542.3 359.2 496.4 357 505.5 328.8 523.2 350.1 515.7 365.5 515.2 315.5 546.2 369.5 507.8 325 539.1 296.6 551.6 328.5 530.7 329.9 522.6 351.7 531.6 351.6 534.7 299.3 572.2 340.7 527.6 349.6 494.8 344 526.5 370.5 509.6 324.6 529.2 342.2 503.5 292 549.3 358.4 508.3 334.3 551.1 357.2 509.9 305.6 537.1 324.4 511.9 348.9 505.4 354.1 531.5 333.9 523 366.7 506.2 311.8 578.9 305.6 570 316.9 514.7 369.3 511.5 335.7 514.9 315.9 550 299.7 562.7 316.9 530.2 333.6 543.8 334.3 546.3 332 521 318.7 558.6 356.3 508.4 310.9 547.7 305.1 568.7 317.2 545.6 360.9 505 309.1 565.2 316.9 555.9 363.7 509.5 315 543.2 345.8 502.5 298.7 571 355.2 506 308.5 552.8 298.5 550.3 341.5 513 358.2 494 350.2 489.8 341.6 511.6 358 505.1 371 508.4 337.1 536.7 294.2 551 346.1 501.9 318.7 540.1 315.9 549.6 329.8 536.4 289.6 562.6 292.5 568.2 308.1 548.2 336.9 529.9 345.7 516.5 358.7 499.4 351.2 512.2 355.7 498.6 331.8 518.3 351 524.7 337.2 531.5 351 550 308 515" fill="none" stroke="none" marker-start="url(#m4)" marker-mid="url(#m4)" marker-end="url(#m4)"/>
<path d="M424.6 457" fill="none" stroke="none" marker-start="url(#m6)" marker-mid="url(#m6)" marker-end="url(#m6)"/>
<path d="M428.6 441.3" fill="none" stroke="none" marker-start="url(#m10)" marker-mid="url(#m10)" marker-end="url(#m10)"/>
<path d="M469.7 404.6" fill="none" stroke="none" marker-start="url(#m9)" marker-mid="url(#m9)" marker-end="url(#m9)"/>
<path d="M404.5 464 386.7 479.4" fill="none" stroke="none" marker-start="url(#m10)" marker-mid="url(#m10)" marker-end="url(#m10)"/>
<path d="M471.8 402.5" fill="none" stroke="none" marker-start="url(#m5)" marker-mid="url(#m5)" marker-end="url(#m5)"/>
<path d="M421.1 436" fill="none" stroke="none" marker-start="url(#m11)" marker-mid="url(#m11)" marker-end="url(#m11)"/>
<path d="M428.6 413.2" fill="none" stroke="none" marker-start="url(#m10)" marker-mid="url(#m10)" marker-end="url(#m10)"/>
<path d="M409.9 451.2" fill="none" stroke="none" marker-start="url(#m0)" marker-mid="url(#m0)" marker-end="url(#m0)"/>
<path d="M408.7 459.1" fill="none" stroke="none" marker-start="url(#m10)" marker-mid="url(#m10)" marker-end="url(#m10)"/>
<path d="M501 362.2" fill="none" stroke="none" marker-start="url(#m5)" marker-mid="url(#m5)" marker-end="url(#m5)"/>
<path d="M444.4 410.8 371.8 494.2" fill="none" stroke="none" marker-start="url(#m6)" marker-mid="url(#m6)" marker-end="url(#m6)"/>
<path d="M399.6 453.8" fill="none" stroke="none" marker-start="url(#m10)" marker-mid="url(#m10)" marker-end="url(#m10)"/>
<path d="M405 460.2" fill="none" stroke="none" marker-start="url(#m11)" marker-mid="url(#m11)" marker-end="url(#m11)"/>
<path d="M441.1 428.6" fill="none" stroke="none" marker-start="url(#m10)" marker-mid="url(#m10)" marker-end="url(#m10)"/>
<path d="M425.6 438.3" fill="none" stroke="none" marker-start="url(#m11)" marker-mid="url(#m11)" marker-end="url(#m11)"/>
<path d="M445.7 419.4" fill="none" stroke="none" marker-start="url(#m6)" marker-mid="url(#m6)" marker-end="url(#m6)"/>
<path d="M446.9 433.2" fill="none" stroke="none" marker-start="url(#m0)" marker-mid="url(#m0)" marker-end="url(#m0)"/>
<path d="M470.7 401.8" fill="none" stroke="none" marker-start="url(#m9)" marker-mid="url(#m9)" marker-end="url(#m9)"/>
<path d="M488.2 386.4" fill="none" stroke="none" marker-start="url(#m5)" marker-mid="url(#m5)" marker-end="url(#m5)"/>
<path d="M462.4 407.3 471.5 407" fill="none" stroke="none" marker-start="url(#m10)" marker-mid="url(#m10)" marker-end="url(#m10)"/>
<path d="M538 350.9" fill="none" stroke="none" marker-start="url(#m3)" marker-mid="url(#m3)" marker-end="url(#m3)"/>
<path d="M406 464.2" fill="none" stroke="none" marker-start="url(#m10)" marker-mid="url(#m10)" marker-end="url(#m10)"/>
<path d="M456.1 412.2" fill="none" stroke="none" marker-start="url(#m9)" marker-mid="url(#m9)" marker-end="url(#m9)"/>
<path d="M447.7 423.6" fill="none" stroke="none" marker-start="url(#m5)" marker-mid="url(#m5)" marker-end="url(#m5)"/>
<path d="M476.2 397" fill="none" stroke="none" marker-start="url(#m6)" marker-mid="url(#m6)" marker-end="url(#m6)"/>
<path d="M467 407.5" fill="none" stroke="none" marker-start="url(#m10)" marker-mid="url(#m10)" marker-end="url(#m10)"/>
<path d="M477.9 418.8" fill="none" stroke="none" marker-start="url(#m0)" marker-mid="url(#m0)" marker-end="url(#m0)"/>
<path d="M450.2 426" fill="none" stroke="none" marker-start="url(#m5)" marker-mid="url(#m5)" marker-end="url(#m5)"/>
<path d="M528.7 356.3" fill="none" stroke="none" marker-start="url(#m3)" marker-mid="url(#m3)" marker-end="url(#m3)"/>
<path d="M462.3 410.7 423.9 443" fill="none" stroke="none" marker-start="url(#m10)" marker-mid="url(#m10)" marker-end="url(#m10)"/>
<path d="M523 354.4" fill="none" stroke="none" marker-start="url(#m9)" marker-mid="url(#m9)" marker-end="url(#m9)"/>
<path d="M471.7 403.8" fill="none" stroke="none" marker-start="url(#m5)" marker-mid="url(#m5)" marker-end="url(#m5)"/>
<path d="M442.7 431 443.9 436.7" fill="none" stroke="none" marker-start="url(#m10)" marker-mid="url(#m10)" marker-end="url(#m10)"/>
<path d="M419.4 447.3" fill="none" stroke="none" marker-start="url(#m11)" marker-mid="url(#m11)" marker-end="url(#m11)"/>
<path d="M376.2 465.7" fill="none" stroke="none" marker-start="url(#m6)" marker-mid="url(#m6)" marker-end="url(#m6)"/>
<path d="M496.2 375.4" fill="none" stroke="none" marker-start="url(#m5)" marker-mid="url(#m5)" marker-end="url(#m5)"/>
<path d="M411.7 467.9" fill="none" stroke="none" marker-start="url(#m11)" marker-mid="url(#m11)" marker-end="url(#m11)"/>
<path d="M484.9 394.6" fill="none" stroke="none" marker-start="url(#m9)" marker-mid="url(#m9)" marker-end="url(#m9)"/>
<path d="M451.7 422.8 413.7 463 437.5 437.2" fill="none" stroke="none" marker-start="url(#m10)" marker-mid="url(#m10)" marker-end="url(#m10)"/>
<path d="M432.8 434.6" fill="none" stroke="none" marker-start="url(#m0)" marker-mid="url(#m0)" marker-end="url(#m0)"/>
<path d="M409.6 466.5 484.6 392.9 421.3 452.1" fill="none" stroke="none" marker-start="url(#m10)" marker-mid="url(#m10)" marker-end="url(#m10)"/>
<path d="M474.8 398.9" fill="none" stroke="none" marker-start="url(#m5)" marker-mid="url(#m5)" marker-end="url(#m5)"/>
<path d="M429.1 440.2 448.3 417 413.9 446.8" fill="none" stroke="none" marker-start="url(#m10)" marker-mid="url(#m10)" marker-end="url(#m10)"/>
<path d="M432.7 439.9" fill="none" stroke="none" marker-start="url(#m11)" marker-mid="url(#m11)" marker-end="url(#m11)"/>
<path d="M545.4 347.1" fill="none" stroke="none" marker-start="url(#m3)" marker-mid="url(#m3)" marker-end="url(#m3)"/>
<path d="M500 378.2" fill="none" stroke="none" marker-start="url(#m9)" marker-mid="url(#m9)" marker-end="url(#m9)"/>
<path d="M402.8 459.8" fill="none" stroke="none" marker-start="url(#m10)" marker-mid="url(#m10)" marker-end="url(#m10)"/>
<path d="M502.1 379.7" fill="none" stroke="none" marker-start="url(#m5)" marker-mid="url(#m5)" marker-end="url(#m5)"/>
<path d="M490.9 386.7" fill="none" stroke="none" marker-start="url(#m0)" marker-mid="url(#m0)" marker-end="url(#m0)"/>
<path d="M459.9 408.5" fill="none" stroke="none" marker-start="url(#m10)" marker-mid="url(#m10)" marker-end="url(#m10)"/>
<path d="M482.2 394.2" fill="none" stroke="none" marker-start="url(#m9)" marker-mid="url(#m9)" marker-end="url(#m9)"/>
<path d="M446.7 428.8 416.1 458.6" fill="none" stroke="none" marker-start="url(#m10)" marker-mid="url(#m10)" marker-end="url(#m10)"/>
<path d="M414.4 458.7" fill="none" stroke="none" marker-start="url(#m11)" marker-mid="url(#m11)" marker-end="url(#m11)"/>
<path d="M514.5 366.6" fill="none" stroke="none" marker-start="url(#m5)" marker-mid="url(#m5)" marker-end="url(#m5)"/>
<path d="M413.4 440.7" fill="none" stroke="none" marker-start="url(#m10)" marker-mid="url(#m10)" marker-end="url(#m10)"/>
<path d="M389.5 475.4" fill="none" stroke="none" marker-start="url(#m6)" marker-mid="url(#m6)" marker-end="url(#m6)"/>
<path d="M444 426.1" fill="none" stroke="none" marker-start="url(#m10)" marker-mid="url(#m10)" marker-end="url(#m10)"/>
<path d="M468.2 411.6 490.2 383.4 459.6 406.4" fill="none" stroke="none" marker-start="url(#m5)" marker-mid="url(#m5)" marker-end="url(#m5)"/>
<path d="M427.8 441.7" fill="none" stroke="none" marker-start="url(#m6)" marker-mid="url(#m6)" marker-end="url(#m6)"/>
<path d="M506.4 378.4" fill="none" stroke="none" marker-start="url(#m5)" marker-mid="url(#m5)" marker-end="url(#m5)"/>
<path d="M457.6 416.5" fill="none" stroke="none" marker-start="url(#m9)" marker-mid="url(#m9)" marker-end="url(#m9)"/>
<path d="M430.3 427.4 403.9 460.2" fill="none" stroke="none" marker-start="url(#m10)" marker-mid="url(#m10)" marker-end="url(#m10)"/>
<path d="M386.4 471.4" fill="none" stroke="none" marker-start="url(#m6)" marker-mid="url(#m6)" marker-end="url(#m6)"/>
<path d="M535.1 347 453.6 421.3 481.6 392.2" fill="none" stroke="none" marker-start="url(#m5)" marker-mid="url(#m5)" marker-end="url(#m5)"/>
<path d="M450.3 426" fill="none" stroke="none" marker-start="url(#m0)" marker-mid="url(#m0)" marker-end="url(#m0)"/>
<path d="M373.1 488.6" fill="none" stroke="none" marker-start="url(#m6)" marker-mid="url(#m6)" marker-end="url(#m6)"/>
<path d="M440.2 435" fill="none" stroke="none" marker-start="url(#m11)" marker-mid="url(#m11)" marker-end="url(#m11)"/>
<path d="M509.6 370.9" fill="none" stroke="none" marker-start="url(#m5)" marker-mid="url(#m5)" marker-end="url(#m5)"/>
<path d="M411.5 466.5 424 448.5" fill="none" stroke="none" marker-start="url(#m10)" marker-mid="url(#m10)" marker-end="url(#m10)"/>
<path d="M344.6 506.9" fill="none" stroke="none" marker-start="url(#m6)" marker-mid="url(#m6)" marker-end="url(#m6)"/>
<path d="M448.9 420.4" fill="none" stroke="none" marker-start="url(#m10)" marker-mid="url(#m10)" marker-end="url(#m10)"/>
<path d="M468.9 400.2" fill="none" stroke="none" marker-start="url(#m9)" marker-mid="url(#m9)" marker-end="url(#m9)"/>
<path d="M416.3 445.2" fill="none" stroke="none" marker-start="url(#m0)" marker-mid="url(#m0)" marker-end="url(#m0)"/>
<path d="M490.5 378.8" fill="none" stroke="none" marker-start="url(#m5)" marker-mid="url(#m5)" marker-end="url(#m5)"/>
<path d="M481.6 393" fill="none" stroke="none" marker-start="url(#m9)" marker-mid="url(#m9)" marker-end="url(#m9)"/>
<path d="M465.2 406.2" fill="none" stroke="none" marker-start="url(#m10)" marker-mid="url(#m10)" marker-end="url(#m10)"/>
<path d="M494.8 377.2" fill="none" stroke="none" marker-start="url(#m5)" marker-mid="url(#m5)" marker-end="url(#m5)"/>
<path d="M446.2 426" fill="none" stroke="none" marker-start="url(#m10)" marker-mid="url(#m10)" marker-end="url(#m10)"/>
<path d="M465.8 404.8" fill="none" stroke="none" marker-start="url(#m6)" marker-mid="url(#m6)" marker-end="url(#m6)"/>
<path d="M450.2 412.4" fill="none" stroke="none" marker-start="url(#m10)" marker-mid="url(#m10)" marker-end="url(#m10)"/>
<path d="M516.3 364 453.5 419.4 444.1 426.6" fill="none" stroke="none" marker-start="url(#m5)" marker-mid="url(#m5)" marker-end="url(#m5)"/>
<path d="M497.2 375.8" fill="none" stroke="none" marker-start="url(#m9)" marker-mid="url(#m9)" marker-end="url(#m9)"/>
<path d="M405.7 457.2" fill="none" stroke="none" marker-start="url(#m10)" marker-mid="url(#m10)" marker-end="url(#m10)"/>
<path d="M445.4 424.4" fill="none" stroke="none" marker-start="url(#m9)" marker-mid="url(#m9)" marker-end="url(#m9)"/>
<path d="M463.6 402.9" fill="none" stroke="none" marker-start="url(#m10)" marker-mid="url(#m10)" marker-end="url(#m10)"/>
<path d="M495.1 382.4" fill="none" stroke="none" marker-start="url(#m5)" marker-mid="url(#m5)" marker-end="url(#m5)"/>
<path d="M497.7 383.1" fill="none" stroke="none" marker-start="url(#m9)" marker-mid="url(#m9)" marker-end="url(#m9)"/>
<path d="M461.5 402.8" fill="none" stroke="none" marker-start="url(#m10)" marker-mid="url(#m10)" marker-end="url(#m10)"/>
<path d="M411.4 450.5" fill="none" stroke="none" marker-start="url(#m11)" marker-mid="url(#m11)" marker-end="url(#m11)"/>
<path d="M400.4 457.9" fill="none" stroke="none" marker-start="url(#m10)" marker-mid="url(#m10)" marker-end="url(#m10)"/>
<path d="M528.5 347.4" fill="none" stroke="none" marker-start="url(#m5)" marker-mid="url(#m5)" marker-end="url(#m5)"/>
<path d="M456.1 420.3" fill="none" stroke="none" marker-start="url(#m10)" marker-mid="url(#m10)" marker-end="url(#m10)"/>
<path d="M483.2 392.9" fill="none" stroke="none" marker-start="url(#m5)" marker-mid="url(#m5)" marker-end="url(#m5)"/>
<path d="M427.2 440.7 459.8 416.1" fill="none" stroke="none" marker-start="url(#m10)" marker-mid="url(#m10)" marker-end="url(#m10)"/>
<path d="M483.8 384.4" fill="none" stroke="none" marker-start="url(#m5)" marker-mid="url(#m5)" marker-end="url(#m5)"/>
<path d="M468.6 398.9" fill="none" stroke="none" marker-start="url(#m10)" marker-mid="url(#m10)" marker-end="url(#m10)"/>
<path d="M409.2 464.8" fill="none" stroke="none" marker-start="url(#m6)" marker-mid="url(#m6)" marker-end="url(#m6)"/>
<path d="M501.6 384.1" fill="none" stroke="none" marker-start="url(#m5)" marker-mid="url(#m5)" marker-end="url(#m5)"/>
<path d="M424 436.2 464.7 407.4" fill="none" stroke="none" marker-start="url(#m10)" marker-mid="url(#m10)" marker-end="url(#m10)"/>
<path d="M520.1 361.3" fill="none" stroke="none" marker-start="url(#m5)" marker-mid="url(#m5)" marker-end="url(#m5)"/>
<path d="M349.6 516.9" fill="none" stroke="none" marker-start="url(#m6)" marker-mid="url(#m6)" marker-end="url(#m6)"/>
<path d="M432.2 436.5" fill="none" stroke="none" marker-start="url(#m10)" marker-mid="url(#m10)" marker-end="url(#m10)"/>
<path d="M427.1 439.7" fill="none" stroke="none" marker-start="url(#m11)" marker-mid="url(#m11)" marker-end="url(#m11)"/>
<path d="M443.8 424" fill="none" stroke="none" marker-start="url(#m10)" marker-mid="url(#m10)" marker-end="url(#m10)"/>
<path d="M518.6 357.1 470.4 405.1" fill="none" stroke="none" marker-start="url(#m9)" marker-mid="url(#m9)" marker-end="url(#m9)"/>
<path d="M479.9 398.8" fill="none" stroke="none" marker-start="url(#m10)" marker-mid="url(#m10)" marker-end="url(#m10)"/>
<path d="M442.3 420.6" fill="none" stroke="none" marker-start="url(#m0)" marker-mid="url(#m0)" marker-end="url(#m0)"/>
<path d="M497.4 377.5" fill="none" stroke="none" marker-start="url(#m5)" marker-mid="url(#m5)" marker-end="url(#m5)"/>
<path d="M408 445.9" fill="none" stroke="none" marker-start="url(#m11)" marker-mid="url(#m11)" marker-end="url(#m11)"/>
<path d="M495.4 390.7" fill="none" stroke="none" marker-start="url(#m0)" marker-mid="url(#m0)" marker-end="url(#m0)"/>
<path d="M428 494.7" fill="none" stroke="none" marker-start="url(#m6)" marker-mid="url(#m6)" marker-end="url(#m6)"/>
<path d="M400.1 463.6 444.6 419.4 438.7 431" fill="none" stroke="none" marker-start="url(#m10)" marker-mid="url(#m10)" marker-end="url(#m10)"/>
<path d="M431.7 434.6" fill="none" stroke="none" marker-start="url(#m0)" marker-mid="url(#m0)" marker-end="url(#m0)"/>
<path d="M513.8 362.9" fill="none" stroke="none" marker-start="url(#m9)" marker-mid="url(#m9)" marker-end="url(#m9)"/>
<path d="M421.3 437.8 403.3 472.8 399.2 469.9" fill="none" stroke="none" marker-start="url(#m10)" marker-mid="url(#m10)" marker-end="url(#m10)"/>
<path d="M456.9 420.5" fill="none" stroke="none" marker-start="url(#m9)" marker-mid="url(#m9)" marker-end="url(#m9)"/>
<path d="M410.5 457.5" fill="none" stroke="none" marker-start="url(#m10)" marker-mid="url(#m10)" marker-end="url(#m10)"/>
<path d="M338.3 518.9" fill="none" stroke="none" marker-start="url(#m6)" marker-mid="url(#m6)" marker-end="url(#m6)"/>
<path d="M481.6 394.8" fill="none" stroke="none" marker-start="url(#m5)" marker-mid="url(#m5)" marker-end="url(#m5)"/>
<path d="M398.5 467.1 462.1 426.9 408.5 464.6 427.5 430.9 446.2 433.9 448.8 425.4" fill="none" stroke="none" marker-start="url(#m10)" marker-mid="url(#m10)" marker-end="url(#m10)"/>
<path d="M449 427.6" fill="none" stroke="none" marker-start="url(#m0)" marker-mid="url(#m0)" marker-end="url(#m0)"/>
<path d="M417.7 453.8" fill="none" stroke="none" marker-start="url(#m6)" marker-mid="url(#m6)" marker-end="url(#m6)"/>
<path d="M410.6 455.7 435.8 435.2" fill="none" stroke="none" marker-start="url(#m10)" marker-mid="url(#m10)" marker-end="url(#m10)"/>
<path d="M401.7 461.6" fill="none" stroke="none" marker-start="url(#m6)" marker-mid="url(#m6)" marker-end="url(#m6)"/>
<path d="M508.6 373.7" fill="none" stroke="none" marker-start="url(#m9)" marker-mid="url(#m9)" marker-end="url(#m9)"/>
<path d="M441.5 423.8" fill="none" stroke="none" marker-start="url(#m6)" marker-mid="url(#m6)" marker-end="url(#m6)"/>
<path d="M531.4 347.6" fill="none" stroke="none" marker-start="url(#m5)" marker-mid="url(#m5)" marker-end="url(#m5)"/>
<path d="M509.2 367.6 487.6 389.6" fill="none" stroke="none" marker-start="url(#m9)" marker-mid="url(#m9)" marker-end="url(#m9)"/>
<path d="M379 487.6" fill="none" stroke="none" marker-start="url(#m10)" marker-mid="url(#m10)" marker-end="url(#m10)"/>
<path d="M409.5 463.8" fill="none" stroke="none" marker-start="url(#m11)" marker-mid="url(#m11)" marker-end="url(#m11)"/>
<path d="M396 461.8" fill="none" stroke="none" marker-start="url(#m10)" marker-mid="url(#m10)" marker-end="url(#m10)"/>
<path d="M409 466.9" fill="none" stroke="none" marker-start="url(#m11)" marker-mid="url(#m11)" marker-end="url(#m11)"/>
<path d="M439.2 433" fill="none" stroke="none" marker-start="url(#m10)" marker-mid="url(#m10)" marker-end="url(#m10)"/>
<path d="M416 455.9" fill="none" stroke="none" marker-start="url(#m0)" marker-mid="url(#m0)" marker-end="url(#m0)"/>
<path d="M391.8 477.7" fill="none" stroke="none" marker-start="url(#m10)" marker-mid="url(#m10)" marker-end="url(#m10)"/>
<path d="M461.4 415" fill="none" stroke="none" marker-start="url(#m6)" marker-mid="url(#m6)" marker-end="url(#m6)"/>
<path d="M435 459.2" fill="none" stroke="none" marker-start="url(#m0)" marker-mid="url(#m0)" marker-end="url(#m0)"/>
<path d="M482.9 394.2" fill="none" stroke="none" marker-start="url(#m9)" marker-mid="url(#m9)" marker-end="url(#m9)"/>
<path d="M422.3 451.4" fill="none" stroke="none" marker-start="url(#m0)" marker-mid="url(#m0)" marker-end="url(#m0)"/>
<path d="M441 424" fill="none" stroke="none" marker-start="url(#m10)" marker-mid="url(#m10)" marker-end="url(#m10)"/>
<path d="M504.9 372.7" fill="none" stroke="none" marker-start="url(#m5)" marker-mid="url(#m5)" marker-end="url(#m5)"/>
<path d="M425.1 439.9" fill="none" stroke="none" marker-start="url(#m10)" marker-mid="url(#m10)" marker-end="url(#m10)"/>
<path d="M439.1 440" fill="none" stroke="none" marker-start="url(#m0)" marker-mid="url(#m0)" marker-end="url(#m0)"/>
<path d="M461.5 401.1" fill="none" stroke="none" marker-start="url(#m5)" marker-mid="url(#m5)" marker-end="url(#m5)"/>
<path d="M389.4 477 352.3 510.5 353.4 517.6" fill="none" stroke="none" marker-start="url(#m6)" marker-mid="url(#m6)" marker-end="url(#m6)"/>
<path d="M440.2 432.2" fill="none" stroke="none" marker-start="url(#m10)" marker-mid="url(#m10)" marker-end="url(#m10)"/>
<path d="M452 425.3" fill="none" stroke="none" marker-start="url(#m6)" marker-mid="url(#m6)" marker-end="url(#m6)"/>
<path d="M506.6 375" fill="none" stroke="none" marker-start="url(#m9)" marker-mid="url(#m9)" marker-end="url(#m9)"/>
<path d="M524.4 361.5" fill="none" stroke="none" marker-start="url(#m3)" marker-mid="url(#m3)" marker-end="url(#m3)"/>
<path d="M412.6 462.4" fill="none" stroke="none" marker-start="url(#m10)" marker-mid="url(#m10)" marker-end="url(#m10)"/>
<path d="M540.4 347.3" fill="none" stroke="none" marker-start="url(#m5)" marker-mid="url(#m5)" marker-end="url(#m5)"/>
<path d="M411.2 457.4 401.9 451.5" fill="none" stroke="none" marker-start="url(#m10)" marker-mid="url(#m10)" marker-end="url(#m10)"/>
<path d="M274.5 587.7 351.3 519.8 351.3 515.7 335.8 525 273.1 588.3 266.9 583 334.9 528.1 332.7 532.3 268.7 590.9 264 587 366.1 492.3 313 555.7 360.8 501.8 288.2 562.6 298.2 555.4 386.5 480.8 294.7 570 320.4 541.1" fill="none" stroke="none" marker-start="url(#m7)" marker-mid="url(#m7)" marker-end="url(#m7)"/>
<path d="M441.5 430.8" fill="none" stroke="none" marker-start="url(#m10)" marker-mid="url(#m10)" marker-end="url(#m10)"/>
<path d="M486.6 393.4" fill="none" stroke="none" marker-start="url(#m5)" marker-mid="url(#m5)" marker-end="url(#m5)"/>
<path d="M517.1 363.3" fill="none" stroke="none" marker-start="url(#m9)" marker-mid="url(#m9)" marker-end="url(#m9)"/>
<path d="M441.2 428.7" fill="none" stroke="none" marker-start="url(#m11)" marker-mid="url(#m11)" marker-end="url(#m11)"/>
<path d="M500.5 374.7" fill="none" stroke="none" marker-start="url(#m5)" marker-mid="url(#m5)" marker-end="url(#m5)"/>
<path d="M519.7 367.8" fill="none" stroke="none" marker-start="url(#m9)" marker-mid="url(#m9)" marker-end="url(#m9)"/>
<path d="M434.9 439.6" fill="none" stroke="none" marker-start="url(#m10)" marker-mid="url(#m10)" marker-end="url(#m10)"/>
<path d="M422.9 443.5" fill="none" stroke="none" marker-start="url(#m11)" marker-mid="url(#m11)" marker-end="url(#m11)"/>
<path d="M473.3 396.9" fill="none" stroke="none" marker-start="url(#m5)" marker-mid="url(#m5)" marker-end="url(#m5)"/>
<path d="M426.7 443.1" fill="none" stroke="none" marker-start="url(#m6)" marker-mid="url(#m6)" marker-end="url(#m6)"/>
<path d="M443.6 432.2 492.2 382.6" fill="none" stroke="none" marker-start="url(#m10)" marker-mid="url(#m10)" marker-end="url(#m10)"/>
<path d="M394.7 483.1 371.7 490.4" fill="none" stroke="none" marker-start="url(#m6)" marker-mid="url(#m6)" marker-end="url(#m6)"/>
<path d="M494.7 380.9" fill="none" stroke="none" marker-start="url(#m5)" marker-mid="url(#m5)" marker-end="url(#m5)"/>
<path d="M395.7 466" fill="none" stroke="none" marker-start="url(#m10)" marker-mid="url(#m10)" marker-end="url(#m10)"/>
<path d="M416.3 458.2" fill="none" stroke="none" marker-start="url(#m11)" marker-mid="url(#m11)" marker-end="url(#m11)"/>
<path d="M448.1 422.2" fill="none" stroke="none" marker-start="url(#m5)" marker-mid="url(#m5)" marker-end="url(#m5)"/>
<path d="M428.3 435.9 406.7 456.8" fill="none" stroke="none" marker-start="url(#m10)" marker-mid="url(#m10)" marker-end="url(#m10)"/>
<path d="M529.7 358" fill="none" stroke="none" marker-start="url(#m3)" marker-mid="url(#m3)" marker-end="url(#m3)"/>
<path d="M429.1 446.6" fill="none" stroke="none" marker-start="url(#m10)" marker-mid="url(#m10)" marker-end="url(#m10)"/>
<path d="M459 415.8 533.4 344.8" fill="none" stroke="none" marker-start="url(#m5)" marker-mid="url(#m5)" marker-end="url(#m5)"/>
<path d="M423 452.9" fill="none" stroke="none" marker-start="url(#m0)" marker-mid="url(#m0)" marker-end="url(#m0)"/>
<path d="M499.3 376.4 475 397.9" fill="none" stroke="none" marker-start="url(#m10)" marker-mid="url(#m10)" marker-end="url(#m10)"/>
<path d="M469.8 409.4" fill="none" stroke="none" marker-start="url(#m0)" marker-mid="url(#m0)" marker-end="url(#m0)"/>
<path d="M457 416" fill="none" stroke="none" marker-start="url(#m5)" marker-mid="url(#m5)" marker-end="url(#m5)"/>
<path d="M410.1 459.3" fill="none" stroke="none" marker-start="url(#m10)" marker-mid="url(#m10)" marker-end="url(#m10)"/>
<path d="M520.7 357.7 453.3 432.4" fill="none" stroke="none" marker-start="url(#m5)" marker-mid="url(#m5)" marker-end="url(#m5)"/>
<path d="M487.2 386.7" fill="none" stroke="none" marker-start="url(#m10)" marker-mid="url(#m10)" marker-end="url(#m10)"/>
<path d="M456.7 413.8" fill="none" stroke="none" marker-start="url(#m6)" marker-mid="url(#m6)" marker-end="url(#m6)"/>
<path d="M426.9 444" fill="none" stroke="none" marker-start="url(#m10)" marker-mid="url(#m10)" marker-end="url(#m10)"/>
<path d="M408.1 465.1" fill="none" stroke="none" marker-start="url(#m11)" marker-mid="url(#m11)" marker-end="url(#m11)"/>
<path d="M477.7 397.1 456.6 410.4 417 439 407.4 458.9" fill="none" stroke="none" marker-start="url(#m10)" marker-mid="url(#m10)" marker-end="url(#m10)"/>
<path d="M487.9 387.9" fill="none" stroke="none" marker-start="url(#m5)" marker-mid="url(#m5)" marker-end="url(#m5)"/>
<path d="M382.7 483.4" fill="none" stroke="none" marker-start="url(#m10)" marker-mid="url(#m10)" marker-end="url(#m10)"/>
<path d="M433.2 445.7" fill="none" stroke="none" marker-start="url(#m6)" marker-mid="url(#m6)" marker-end="url(#m6)"/>
<path d="M423.8 449.5" fill="none" stroke="none" marker-start="url(#m11)" marker-mid="url(#m11)" marker-end="url(#m11)"/>
<path d="M347.4 519.6" fill="none" stroke="none" marker-start="url(#m6)" marker-mid="url(#m6)" marker-end="url(#m6)"/>
<path d="M463.2 412.5" fill="none" stroke="none" marker-start="url(#m0)" marker-mid="url(#m0)" marker-end="url(#m0)"/>
<path d="M431.8 444.3" fill="none" stroke="none" marker-start="url(#m6)" marker-mid="url(#m6)" marker-end="url(#m6)"/>
<path d="M514.6 352.7" fill="none" stroke="none" marker-start="url(#m5)" marker-mid="url(#m5)" marker-end="url(#m5)"/>
<path d="M406.1 464.5 400.8 461.7" fill="none" stroke="none" marker-start="url(#m10)" marker-mid="url(#m10)" marker-end="url(#m10)"/>
<path d="M458.8 398.9" fill="none" stroke="none" marker-start="url(#m6)" marker-mid="url(#m6)" marker-end="url(#m6)"/>
<path d="M427.5 442.9" fill="none" stroke="none" marker-start="url(#m0)" marker-mid="url(#m0)" marker-end="url(#m0)"/>
<path d="M444.7 427.9" fill="none" stroke="none" marker-start="url(#m5)" marker-mid="url(#m5)" marker-end="url(#m5)"/>
<path d="M403.5 460.2" fill="none" stroke="none" marker-start="url(#m10)" marker-mid="url(#m10)" marker-end="url(#m10)"/>
<path d="M531.7 342.1 500.4 377" fill="none" stroke="none" marker-start="url(#m5)" marker-mid="url(#m5)" marker-end="url(#m5)"/>
<path d="M402.4 455.5" fill="none" stroke="none" marker-start="url(#m6)" marker-mid="url(#m6)" marker-end="url(#m6)"/>
<path d="M511.5 362.7" fill="none" stroke="none" marker-start="url(#m5)" marker-mid="url(#m5)" marker-end="url(#m5)"/>
<path d="M413.2 459.1" fill="none" stroke="none" marker-start="url(#m10)" marker-mid="url(#m10)" marker-end="url(#m10)"/>
<path d="M417.3 451" fill="none" stroke="none" marker-start="url(#m11)" marker-mid="url(#m11)" marker-end="url(#m11)"/>
<path d="M417 447.8 450.8 425.6 414.5 440.1" fill="none" stroke="none" marker-start="url(#m10)" marker-mid="url(#m10)" marker-end="url(#m10)"/>
<path d="M474.8 399" fill="none" stroke="none" marker-start="url(#m9)" marker-mid="url(#m9)" marker-end="url(#m9)"/>
<path d="M453.8 426.5 465.4 423.3" fill="none" stroke="none" marker-start="url(#m5)" marker-mid="url(#m5)" marker-end="url(#m5)"/>
<path d="M396.3 467.1 454.4 416.1" fill="none" stroke="none" marker-start="url(#m10)" marker-mid="url(#m10)" marker-end="url(#m10)"/>
<path d="M393.3 466.8" fill="none" stroke="none" marker-start="url(#m6)" marker-mid="url(#m6)" marker-end="url(#m6)"/>
<path d="M414.7 439" fill="none" stroke="none" marker-start="url(#m10)" marker-mid="url(#m10)" marker-end="url(#m10)"/>
<path d="M409 461.1 446.1 434.1" fill="none" stroke="none" marker-start="url(#m11)" marker-mid="url(#m11)" marker-end="url(#m11)"/>
<path d="M347.5 519.2 362.3 507.1 386.5 482.5 362.1 497 323.9 549.6 294.6 566.4 323.8 536 343.4 512.3 299 563.1 315.8 541.7 418.3 448.5 339.9 524.4 287.8 572 378.8 482 331.4 539.2 351.9 505.3 330.1 524.4 286.2 574 394.5 474.1 364.9 500.7 436.8 431.9 266.1 590.5 519.4 462.4 451.8 464.2 236.9 605 328.8 494.7 265 604.5 262 600" fill="none" stroke="none" marker-start="url(#m8)" marker-mid="url(#m8)" marker-end="url(#m8)"/>
<path d="M377.3 487.5" fill="none" stroke="none" marker-start="url(#m10)" marker-mid="url(#m10)" marker-end="url(#m10)"/>
<path d="M442.6 428.3" fill="none" stroke="none" marker-start="url(#m5)" marker-mid="url(#m5)" marker-end="url(#m5)"/>
<path d="M443.4 436.6 450.9 423.7" fill="none" stroke="none" marker-start="url(#m10)" marker-mid="url(#m10)" marker-end="url(#m10)"/>
<path d="M417.8 456" fill="none" stroke="none" marker-start="url(#m6)" marker-mid="url(#m6)" marker-end="url(#m6)"/>
<path d="M528.6 346" fill="none" stroke="none" marker-start="url(#m5)" marker-mid="url(#m5)" marker-end="url(#m5)"/>
<path d="M456.7 417.4" fill="none" stroke="none" marker-start="url(#m9)" marker-mid="url(#m9)" marker-end="url(#m9)"/>
<path d="M429.9 439.7" fill="none" stroke="none" marker-start="url(#m10)" marker-mid="url(#m10)" marker-end="url(#m10)"/>
<path d="M528.9 355.1" fill="none" stroke="none" marker-start="url(#m3)" marker-mid="url(#m3)" marker-end="url(#m3)"/>
<path d="M387 469.9" fill="none" stroke="none" marker-start="url(#m6)" marker-mid="url(#m6)" marker-end="url(#m6)"/>
<path d="M391.3 478.3 461.2 412.7" fill="none" stroke="none" marker-start="url(#m10)" marker-mid="url(#m10)" marker-end="url(#m10)"/>
<path d="M397.9 476" fill="none" stroke="none" marker-start="url(#m6)" marker-mid="url(#m6)" marker-end="url(#m6)"/>
<path d="M461.4 412.2" fill="none" stroke="none" marker-start="url(#m9)" marker-mid="url(#m9)" marker-end="url(#m9)"/>
<path d="M378.9 498.6" fill="none" stroke="none" marker-start="url(#m6)" marker-mid="url(#m6)" marker-end="url(#m6)"/>
<path d="M475.9 403.3" fill="none" stroke="none" marker-start="url(#m5)" marker-mid="url(#m5)" marker-end="url(#m5)"/>
<path d="M415.7 445.4" fill="none" stroke="none" marker-start="url(#m10)" marker-mid="url(#m10)" marker-end="url(#m10)"/>
<path d="M447.6 421.3 431.4 441.4" fill="none" stroke="none" marker-start="url(#m11)" marker-mid="url(#m11)" marker-end="url(#m11)"/>
<path d="M460.4 422.2" fill="none" stroke="none" marker-start="url(#m6)" marker-mid="url(#m6)" marker-end="url(#m6)"/>
<path d="M459 422.4" fill="none" stroke="none" marker-start="url(#m0)" marker-mid="url(#m0)" marker-end="url(#m0)"/>
<path d="M413.8 459.4 391.5 463.5" fill="none" stroke="none" marker-start="url(#m6)" marker-mid="url(#m6)" marker-end="url(#m6)"/>
<path d="M463.4 411.3 441.2 429" fill="none" stroke="none" marker-start="url(#m5)" marker-mid="url(#m5)" marker-end="url(#m5)"/>
<path d="M519.8 367.5" fill="none" stroke="none" marker-start="url(#m3)" marker-mid="url(#m3)" marker-end="url(#m3)"/>
<path d="M518.1 365.3" fill="none" stroke="none" marker-start="url(#m5)" marker-mid="url(#m5)" marker-end="url(#m5)"/>
<path d="M406.7 466.1" fill="none" stroke="none" marker-start="url(#m10)" marker-mid="url(#m10)" marker-end="url(#m10)"/>
<path d="M415.4 460.4" fill="none" stroke="none" marker-start="url(#m11)" marker-mid="url(#m11)" marker-end="url(#m11)"/>
<path d="M471.1 409.7 406.5 448.9" fill="none" stroke="none" marker-start="url(#m10)" marker-mid="url(#m10)" marker-end="url(#m10)"/>
<path d="M425.2 446.9 403.1 453.3" fill="none" stroke="none" marker-start="url(#m6)" marker-mid="url(#m6)" marker-end="url(#m6)"/>
<path d="M488.1 390.5" fill="none" stroke="none" marker-start="url(#m0)" marker-mid="url(#m0)" marker-end="url(#m0)"/>
<path d="M412.3 454.2 483.3 397.5 405.2 459.9" fill="none" stroke="none" marker-start="url(#m10)" marker-mid="url(#m10)" marker-end="url(#m10)"/>
<path d="M545.9 343.6" fill="none" stroke="none" marker-start="url(#m3)" marker-mid="url(#m3)" marker-end="url(#m3)"/>
<path d="M395.7 478.4" fill="none" stroke="none" marker-start="url(#m10)" marker-mid="url(#m10)" marker-end="url(#m10)"/>
<path d="M531.6 356 457.9 419.1" fill="none" stroke="none" marker-start="url(#m5)" marker-mid="url(#m5)" marker-end="url(#m5)"/>
<path d="M432.5 434.4" fill="none" stroke="none" marker-start="url(#m10)" marker-mid="url(#m10)" marker-end="url(#m10)"/>
<path d="M391.9 485.8" fill="none" stroke="none" marker-start="url(#m6)" marker-mid="url(#m6)" marker-end="url(#m6)"/>
<path d="M477.4 400.9" fill="none" stroke="none" marker-start="url(#m9)" marker-mid="url(#m9)" marker-end="url(#m9)"/>
<path d="M399 465.5" fill="none" stroke="none" marker-start="url(#m10)" marker-mid="url(#m10)" marker-end="url(#m10)"/>
<path d="M459 416.2" fill="none" stroke="none" marker-start="url(#m9)" marker-mid="url(#m9)" marker-end="url(#m9)"/>
<path d="M423 445.8" fill="none" stroke="none" marker-start="url(#m10)" marker-mid="url(#m10)" marker-end="url(#m10)"/>
<path d="M540.5 346" fill="none" stroke="none" marker-start="url(#m3)" marker-mid="url(#m3)" marker-end="url(#m3)"/>
<path d="M523.8 350" fill="none" stroke="none" marker-start="url(#m5)" marker-mid="url(#m5)" marker-end="url(#m5)"/>
<path d="M480.7 391.1 417.7 450.5" fill="none" stroke="none" marker-start="url(#m10)" marker-mid="url(#m10)" marker-end="url(#m10)"/>
<path d="M490.1 384.2" fill="none" stroke="none" marker-start="url(#m5)" marker-mid="url(#m5)" marker-end="url(#m5)"/>
<path d="M433.1 429.3 408.5 460.7 450.9 429.9" fill="none" stroke="none" marker-start="url(#m10)" marker-mid="url(#m10)" marker-end="url(#m10)"/>
<path d="M519.8 360" fill="none" stroke="none" marker-start="url(#m9)" marker-mid="url(#m9)" marker-end="url(#m9)"/>
<path d="M429.2 446.3" fill="none" stroke="none" marker-start="url(#m11)" marker-mid="url(#m11)" marker-end="url(#m11)"/>
<path d="M498.6 389.9" fill="none" stroke="none" marker-start="url(#m5)" marker-mid="url(#m5)" marker-end="url(#m5)"/>
<path d="M408.2 449.4" fill="none" stroke="none" marker-start="url(#m11)" marker-mid="url(#m11)" marker-end="url(#m11)"/>
<path d="M452.2 419.8" fill="none" stroke="none" marker-start="url(#m9)" marker-mid="url(#m9)" marker-end="url(#m9)"/>
<path d="M380.4 490.2" fill="none" stroke="none" marker-start="url(#m6)" marker-mid="url(#m6)" marker-end="url(#m6)"/>
<path d="M538.7 340.7" fill="none" stroke="none" marker-start="url(#m5)" marker-mid="url(#m5)" marker-end="url(#m5)"/>
<path d="M419.4 449.6" fill="none" stroke="none" marker-start="url(#m10)" marker-mid="url(#m10)" marker-end="url(#m10)"/>
<path d="M481.1 399.4 531.1 341.3" fill="none" stroke="none" marker-start="url(#m5)" marker-mid="url(#m5)" marker-end="url(#m5)"/>
<path d="M376.6 486.7 484.9 385.6 448.2 422.8 473.4 397.4" fill="none" stroke="none" marker-start="url(#m10)" marker-mid="url(#m10)" marker-end="url(#m10)"/>
<path d="M467.8 390.2 409.2 457.4" fill="none" stroke="none" marker-start="url(#m6)" marker-mid="url(#m6)" marker-end="url(#m6)"/>
<path d="M440.1 438.4" fill="none" stroke="none" marker-start="url(#m10)" marker-mid="url(#m10)" marker-end="url(#m10)"/>
<path d="M502.1 377.7" fill="none" stroke="none" marker-start="url(#m5)" marker-mid="url(#m5)" marker-end="url(#m5)"/>
<path d="M526.3 357.2 463.7 412.5" fill="none" stroke="none" marker-start="url(#m9)" marker-mid="url(#m9)" marker-end="url(#m9)"/>
<path d="M508 389.5" fill="none" stroke="none" marker-start="url(#m0)" marker-mid="url(#m0)" marker-end="url(#m0)"/>
<path d="M427.9 449" fill="none" stroke="none" marker-start="url(#m11)" marker-mid="url(#m11)" marker-end="url(#m11)"/>
<path d="M466.5 406.7 476.8 399.5" fill="none" stroke="none" marker-start="url(#m5)" marker-mid="url(#m5)" marker-end="url(#m5)"/>
<path d="M457.6 425.5" fill="none" stroke="none" marker-start="url(#m6)" marker-mid="url(#m6)" marker-end="url(#m6)"/>
<path d="M429.2 442.2 466.8 404.2" fill="none" stroke="none" marker-start="url(#m10)" marker-mid="url(#m10)" marker-end="url(#m10)"/>
<path d="M476.1 393.3" fill="none" stroke="none" marker-start="url(#m0)" marker-mid="url(#m0)" marker-end="url(#m0)"/>
<path d="M703.4 195.5 632.9 252.7 639.1 248.8 684.9 208.7 655.3 238.3 562 314.4 712.2 183.4 553 337.9 548.1 332.9 649.8 241.3 635.7 253.4 560.3 317.7 666.9 237.9 536.1 345.1 616.9 277.5 712.4 186.1 702 195.9 636.6 245.6 683.3 218.1 651.3 237 563.6 319.6 687.1 195.1 640 246.3 640.1 252.8 712.4 183.5 630.3 257.3 579.8 298.8 602.7 283.8 630.1 258.5 691.3 194.1 687.9 202.7 597 287.9 617.6 272.7 527.9 356.6 648.8 244.4 684.8 215.8 556.2 326.2 647.4 244.2 543.2 335.8 687.7 203.9 668.9 228.4 708.2 186.7 576.3 312.4 552.5 333.6 636.4 259.2 524.4 349.4 684.7 208.1 555.8 323 546 341.9 550.3 340.4 660.7 230.6 526.1 354.8 604 285.6 554.8 331.4 676.2 215.5 527.9 354.9 554.5 325 670 212.5 619.4 263.4 542.6 345.7 726.8 184 587.9 288.9 598.7 280.7 668.6 223.5 619 272.6 688 208.1 628 264.4 568.8 320.1 627.5 263.9 688.5 204.9 575.8 313.4 647.3 244.1 636.8 255.9 658.9 233 592.8 298.9 562.5 321.1 652.9 238.2 688.1 200.7 613.7 275.5 544.2 338.4 685 215.5 624.6 263.8 654.7 232.8 535.1 343.1 679 216.9 592 292.8 698.2 194.2 567.1 317.4 519.8 365.9 580.5 302.4 665.4 227.3 666.3 230 689.2 201.9 564 329.4 633 245.8 532.1 351.7 562.4 321.9 524.7 354.8 647.4 247.1 700.6 194.6 638.7 249.1 644.5 254.7 703.7 194.5 583.1 300.9 631.1 259.1 680.9 208.7 558 329.6 659.4 229.3 531.3 349 593.3 295.4 555.8 331.2 604.5 281.6 559.2 326.7 529 353.1 609.3 281.8 597.4 291.3 668.9 227 516.1 358.6 648.1 245 531 362.3 615.3 271.3 520.6 361 701.4 189 617.1 272.5 615 274.6 531.4 351.7 680.6 217.9 568.2 310.9 614.6 277 667.1 229.9 677.2 212.2 595.3 290.8 526.1 350.1 720.1 178.4 564.9 311.9 520.4 351.7 644.8 247.9 693.7 196.2 535.3 348.9 521.1 350.9 658.4 239 634.1 255.9 568.8 314.6 566.5 309.5 682.3 227.7 519.3 359.2 564.8 317.8 587.4 292 674.8 216.6 579.9 303.8 527.3 354.1 671.1 225.5 657.5 233.4 541.9 339.8 666.1 226.3 645.7 247.5 594.2 297.1 633.3 252.6 616.5 265.6 681.5 216 713.3 185.2 588.6 302.3 533.9 346.5 591.1 295.2 641.4 252.7 566.1 312.7 545.5 332.4 558.3 322.6 690.9 203.5 663.5 229.3 540.3 338.8 580.5 310.6 570.1 311 538.2 341.9 691 207.5 576.5 310.5 632.2 256.9 595.1 292.2 531.3 351.9 522.8 356.6 660.3 233.8 643.6 243.2 617.3 270.8 548.9 326.7 584.1 297.5 618.1 265.6 562.2 325.3 633.7 253.8 689.6 205.7 550.3 328.1 707.6 187.5 612.4 258.9 716.9 178.3 717.2 182.7 525.4 348.1 652.9 231 570.5 323 642.3 244.7 697.4 193.5 604.5 270.9 650.3 240.3 650.3 234 555.2 329.3 602.4 282.2 572.1 304.8 612.8 269.7 670.1 216.4 544.7 335.5 631.3 260.8 618.8 267.5 592.7 288.4 687.8 202.9 584.5 293.8 676.2 207.6 530.9 351.2 606.8 281.3 533.1 337.8 692.6 206 649.6 234.7 558.7 322.8 594.4 295.5 538.4 336 694.9 192.6 699.2 194.2 697.8 192.8 640.2 248.8 568.8 312.4 608.5 276.3 651.8 236.9 602.7 282.6 525.5 350.6 619.9 260 533.2 346.8 561.8 316.9 687.6 212.9 639.8 244.9 681.4 214.5 654.3 233.7 651.9 240 567.2 317.7 659.1 226.9 543.9 342.4 515.8 356.6 590.6 305.2 548.3 334.6 657.5 230.6 571.7 306.7 526.6 361.6 675.9 217.3 708.6 187 661.5 228.4 708.4 178.3 677.4 215.9 706.7 187.2 654.4 236.3 679.1 217.1 681.6 215.4 537 338.8 582.8 304.6 639.6 243.5 580.3 301.2 698.1 201.3 523.8 350.3 542.1 339.7 584 302.6 588 300.8 687.4 206.2 514.6 356.6 686.8 207.8 710.7 173.7 731.3 172.9 732 168.3 741.9 161.4 726.1 169.1 722.7 175.8 743.4 160.3 734.4 165.5 721.9 176.1 719.6 177.1 724.9 167.4 721.6 170.6 723.4 166.5 725.4 173.2 739.2 157.5 695.4 201.1 561.8 309.5 669.8 222.5 614.7 270.8 594.2 291 604.1 279 553 329.9 558.9 323.6 676.1 211.2 612.2 274.1 648.4 243.4 590 288.4 619.1 272.2 663.8 221 643.7 246.7 604.7 283.3 611.3 270.5 697 195.7 547.8 338.6 608.5 286.4 562.3 323.1 554.6 322.7 549.2 333.4 662.7 229.1 614.3 275.1 631.8 264.8 588.3 296.5 601.7 281.3 611 273.1 672.5 219.5 557.8 330.7 570.2 315.9 568.2 316.9 613 270.9 615.4 269.8 651.5 244.2 699.4 197.7 688.2 208.3 581.6 308.9 606.5 282.4 625.4 263.6 669.2 228 622.6 266.6 565.5 317.2 547.6 332.7 596.6 293.3 638.4 253.5 571.8 317.5 612.1 273.4 600.8 283.8 692.8 199.5 652.5 239 694.7 196.7 624.8 266.8 619.3 269.5 694.5 195.8 599.4 274.6 625 255.9 544.5 337.6 562.9 311.2 586.2 298.9 578.4 303.8 610.1 278.1 680.8 209.2 569.7 305.7 544.4 330 630.1 258.6 591.7 280.3 548.4 334.7 661.3 229.4 687.5 201 660.8 233.5 667.4 223.2 661.3 229.8 696.4 197.6 561.4 319.1 678.9 211 651.1 236.9 689.4 199.2 676 217.5 628 259.5 647.3 246.7 575.8 300.7 595.8 294.2 563.8 318.5 604.2 281.3 670.6 218.2 593 288.9 678.2 208.7 573.1 313.8 744 138.1 605.3 239.4 717.8 238 546 295.5 629.5 301.3 734.5 182.7 723 183.9 740.3 168.3 712.1 176.1 618.8 286.9 599.3 302.7" fill="none" stroke="none" marker-start="url(#m9)" marker-mid="url(#m9)" marker-end="url(#m9)"/>
<path d="M474.6 411" fill="none" stroke="none" marker-start="url(#m6)" marker-mid="url(#m6)" marker-end="url(#m6)"/>
<path d="M373.8 486.4 428.9 434.6" fill="none" stroke="none" marker-start="url(#m10)" marker-mid="url(#m10)" marker-end="url(#m10)"/>
<path d="M447.7 417.6" fill="none" stroke="none" marker-start="url(#m0)" marker-mid="url(#m0)" marker-end="url(#m0)"/>
<path d="M505.9 368.2 456.7 417.3" fill="none" stroke="none" marker-start="url(#m9)" marker-mid="url(#m9)" marker-end="url(#m9)"/>
<path d="M524.4 360.6" fill="none" stroke="none" marker-start="url(#m3)" marker-mid="url(#m3)" marker-end="url(#m3)"/>
<path d="M497.1 383.6" fill="none" stroke="none" marker-start="url(#m5)" marker-mid="url(#m5)" marker-end="url(#m5)"/>
<path d="M383.5 486.9" fill="none" stroke="none" marker-start="url(#m6)" marker-mid="url(#m6)" marker-end="url(#m6)"/>
<path d="M427.4 441.5" fill="none" stroke="none" marker-start="url(#m11)" marker-mid="url(#m11)" marker-end="url(#m11)"/>
<path d="M480.4 390.8" fill="none" stroke="none" marker-start="url(#m9)" marker-mid="url(#m9)" marker-end="url(#m9)"/>
<path d="M375.7 482.4 435.8 434.7" fill="none" stroke="none" marker-start="url(#m6)" marker-mid="url(#m6)" marker-end="url(#m6)"/>
<path d="M509.1 357" fill="none" stroke="none" marker-start="url(#m5)" marker-mid="url(#m5)" marker-end="url(#m5)"/>
<path d="M357.3 495.5 479.2 405" fill="none" stroke="none" marker-start="url(#m6)" marker-mid="url(#m6)" marker-end="url(#m6)"/>
<path d="M420.6 471.1" fill="none" stroke="none" marker-start="url(#m10)" marker-mid="url(#m10)" marker-end="url(#m10)"/>
<path d="M484.8 390" fill="none" stroke="none" marker-start="url(#m5)" marker-mid="url(#m5)" marker-end="url(#m5)"/>
<path d="M413.5 455.3" fill="none" stroke="none" marker-start="url(#m10)" marker-mid="url(#m10)" marker-end="url(#m10)"/>
<path d="M477.4 399.8" fill="none" stroke="none" marker-start="url(#m9)" marker-mid="url(#m9)" marker-end="url(#m9)"/>
<path d="M465.1 414.8 400.4 464.1" fill="none" stroke="none" marker-start="url(#m10)" marker-mid="url(#m10)" marker-end="url(#m10)"/>
<path d="M424 443.9" fill="none" stroke="none" marker-start="url(#m11)" marker-mid="url(#m11)" marker-end="url(#m11)"/>
<path d="M511.8 363.4" fill="none" stroke="none" marker-start="url(#m5)" marker-mid="url(#m5)" marker-end="url(#m5)"/>
<path d="M467 407.7" fill="none" stroke="none" marker-start="url(#m10)" marker-mid="url(#m10)" marker-end="url(#m10)"/>
<path d="M447.1 417.8" fill="none" stroke="none" marker-start="url(#m6)" marker-mid="url(#m6)" marker-end="url(#m6)"/>
<path d="M465 408.2" fill="none" stroke="none" marker-start="url(#m9)" marker-mid="url(#m9)" marker-end="url(#m9)"/>
<path d="M450.1 429.6" fill="none" stroke="none" marker-start="url(#m10)" marker-mid="url(#m10)" marker-end="url(#m10)"/>
<path d="M413.4 451.4" fill="none" stroke="none" marker-start="url(#m11)" marker-mid="url(#m11)" marker-end="url(#m11)"/>
<path d="M549.8 344.5" fill="none" stroke="none" marker-start="url(#m3)" marker-mid="url(#m3)" marker-end="url(#m3)"/>
<path d="M521 358.9" fill="none" stroke="none" marker-start="url(#m9)" marker-mid="url(#m9)" marker-end="url(#m9)"/>
<path d="M454.8 417" fill="none" stroke="none" marker-start="url(#m0)" marker-mid="url(#m0)" marker-end="url(#m0)"/>
<path d="M464.6 404.7" fill="none" stroke="none" marker-start="url(#m6)" marker-mid="url(#m6)" marker-end="url(#m6)"/>
<path d="M497.9 385" fill="none" stroke="none" marker-start="url(#m0)" marker-mid="url(#m0)" marker-end="url(#m0)"/>
<path d="M424 442.9 465.4 410" fill="none" stroke="none" marker-start="url(#m10)" marker-mid="url(#m10)" marker-end="url(#m10)"/>
<path d="M477.2 406.4" fill="none" stroke="none" marker-start="url(#m5)" marker-mid="url(#m5)" marker-end="url(#m5)"/>
<path d="M333.4 519.9" fill="none" stroke="none" marker-start="url(#m6)" marker-mid="url(#m6)" marker-end="url(#m6)"/>
<path d="M512.6 367.3" fill="none" stroke="none" marker-start="url(#m9)" marker-mid="url(#m9)" marker-end="url(#m9)"/>
<path d="M369.2 503.3" fill="none" stroke="none" marker-start="url(#m6)" marker-mid="url(#m6)" marker-end="url(#m6)"/>
<path d="M508 370.8" fill="none" stroke="none" marker-start="url(#m9)" marker-mid="url(#m9)" marker-end="url(#m9)"/>
<path d="M548.9 342.7" fill="none" stroke="none" marker-start="url(#m3)" marker-mid="url(#m3)" marker-end="url(#m3)"/>
<path d="M409.8 454.1" fill="none" stroke="none" marker-start="url(#m10)" marker-mid="url(#m10)" marker-end="url(#m10)"/>
<path d="M477.8 394" fill="none" stroke="none" marker-start="url(#m5)" marker-mid="url(#m5)" marker-end="url(#m5)"/>
<path d="M416.5 450.3" fill="none" stroke="none" marker-start="url(#m10)" marker-mid="url(#m10)" marker-end="url(#m10)"/>
<path d="M486.2 392.3 515.4 367.7" fill="none" stroke="none" marker-start="url(#m5)" marker-mid="url(#m5)" marker-end="url(#m5)"/>
<path d="M414.8 458.2" fill="none" stroke="none" marker-start="url(#m0)" marker-mid="url(#m0)" marker-end="url(#m0)"/>
<path d="M454.6 409.9" fill="none" stroke="none" marker-start="url(#m10)" marker-mid="url(#m10)" marker-end="url(#m10)"/>
<path d="M412.6 456" fill="none" stroke="none" marker-start="url(#m0)" marker-mid="url(#m0)" marker-end="url(#m0)"/>
<path d="M497.9 379.3" fill="none" stroke="none" marker-start="url(#m5)" marker-mid="url(#m5)" marker-end="url(#m5)"/>
<path d="M462.4 410.7" fill="none" stroke="none" marker-start="url(#m6)" marker-mid="url(#m6)" marker-end="url(#m6)"/>
<path d="M460 418.7" fill="none" stroke="none" marker-start="url(#m10)" marker-mid="url(#m10)" marker-end="url(#m10)"/>
<path d="M514.4 374.9" fill="none" stroke="none" marker-start="url(#m5)" marker-mid="url(#m5)" marker-end="url(#m5)"/>
<path d="M433.7 434" fill="none" stroke="none" marker-start="url(#m10)" marker-mid="url(#m10)" marker-end="url(#m10)"/>
<path d="M489.8 384" fill="none" stroke="none" marker-start="url(#m9)" marker-mid="url(#m9)" marker-end="url(#m9)"/>
<path d="M432.7 435.3 424.4 441" fill="none" stroke="none" marker-start="url(#m10)" marker-mid="url(#m10)" marker-end="url(#m10)"/>
<path d="M357.5 513" fill="none" stroke="none" marker-start="url(#m6)" marker-mid="url(#m6)" marker-end="url(#m6)"/>
<path d="M442.4 438.7" fill="none" stroke="none" marker-start="url(#m11)" marker-mid="url(#m11)" marker-end="url(#m11)"/>
<path d="M501.9 376.9" fill="none" stroke="none" marker-start="url(#m9)" marker-mid="url(#m9)" marker-end="url(#m9)"/>
<path d="M398.5 466.9" fill="none" stroke="none" marker-start="url(#m10)" marker-mid="url(#m10)" marker-end="url(#m10)"/>
<path d="M468.3 400.8" fill="none" stroke="none" marker-start="url(#m5)" marker-mid="url(#m5)" marker-end="url(#m5)"/>
<path d="M428.3 443.7" fill="none" stroke="none" marker-start="url(#m10)" marker-mid="url(#m10)" marker-end="url(#m10)"/>
<path d="M482.9 397.8" fill="none" stroke="none" marker-start="url(#m0)" marker-mid="url(#m0)" marker-end="url(#m0)"/>
<path d="M431.9 436.5" fill="none" stroke="none" marker-start="url(#m10)" marker-mid="url(#m10)" marker-end="url(#m10)"/>
<path d="M476.1 406.7" fill="none" stroke="none" marker-start="url(#m5)" marker-mid="url(#m5)" marker-end="url(#m5)"/>
<path d="M447.7 422 423.7 436.9" fill="none" stroke="none" marker-start="url(#m10)" marker-mid="url(#m10)" marker-end="url(#m10)"/>
<path d="M474 403.6" fill="none" stroke="none" marker-start="url(#m5)" marker-mid="url(#m5)" marker-end="url(#m5)"/>
<path d="M424.4 435.8 445.4 424.4 400.5 460 398.5 469.7" fill="none" stroke="none" marker-start="url(#m10)" marker-mid="url(#m10)" marker-end="url(#m10)"/>
<path d="M406.9 460.3" fill="none" stroke="none" marker-start="url(#m11)" marker-mid="url(#m11)" marker-end="url(#m11)"/>
<path d="M475 401.2 497.2 384.5" fill="none" stroke="none" marker-start="url(#m5)" marker-mid="url(#m5)" marker-end="url(#m5)"/>
<path d="M485.8 383 481.4 399" fill="none" stroke="none" marker-start="url(#m10)" marker-mid="url(#m10)" marker-end="url(#m10)"/>
<path d="M402 449.3" fill="none" stroke="none" marker-start="url(#m6)" marker-mid="url(#m6)" marker-end="url(#m6)"/>
<path d="M403 461.2 443.1 427 470 407" fill="none" stroke="none" marker-start="url(#m10)" marker-mid="url(#m10)" marker-end="url(#m10)"/>
<path d="M410.8 463.5" fill="none" stroke="none" marker-start="url(#m11)" marker-mid="url(#m11)" marker-end="url(#m11)"/>
<path d="M444.7 420" fill="none" stroke="none" marker-start="url(#m5)" marker-mid="url(#m5)" marker-end="url(#m5)"/>
<path d="M452.3 416.1" fill="none" stroke="none" marker-start="url(#m10)" marker-mid="url(#m10)" marker-end="url(#m10)"/>
<path d="M515.6 365.6" fill="none" stroke="none" marker-start="url(#m5)" marker-mid="url(#m5)" marker-end="url(#m5)"/>
<path d="M409.7 454.4 442.7 425.1 407.4 467.5" fill="none" stroke="none" marker-start="url(#m10)" marker-mid="url(#m10)" marker-end="url(#m10)"/>
<path d="M406.8 457.1" fill="none" stroke="none" marker-start="url(#m11)" marker-mid="url(#m11)" marker-end="url(#m11)"/>
<path d="M507.6 371" fill="none" stroke="none" marker-start="url(#m5)" marker-mid="url(#m5)" marker-end="url(#m5)"/>
<path d="M424.7 451.5" fill="none" stroke="none" marker-start="url(#m0)" marker-mid="url(#m0)" marker-end="url(#m0)"/>
<path d="M501 378.6" fill="none" stroke="none" marker-start="url(#m5)" marker-mid="url(#m5)" marker-end="url(#m5)"/>
<path d="M458.8 421.6" fill="none" stroke="none" marker-start="url(#m10)" marker-mid="url(#m10)" marker-end="url(#m10)"/>
<path d="M524.7 347.3" fill="none" stroke="none" marker-start="url(#m5)" marker-mid="url(#m5)" marker-end="url(#m5)"/>
<path d="M429.1 442.4" fill="none" stroke="none" marker-start="url(#m11)" marker-mid="url(#m11)" marker-end="url(#m11)"/>
<path d="M495 371.7" fill="none" stroke="none" marker-start="url(#m5)" marker-mid="url(#m5)" marker-end="url(#m5)"/>
<path d="M402.6 467.5" fill="none" stroke="none" marker-start="url(#m0)" marker-mid="url(#m0)" marker-end="url(#m0)"/>
<path d="M419.9 456.6 385.4 481.7" fill="none" stroke="none" marker-start="url(#m10)" marker-mid="url(#m10)" marker-end="url(#m10)"/>
<path d="M462.8 402.6" fill="none" stroke="none" marker-start="url(#m5)" marker-mid="url(#m5)" marker-end="url(#m5)"/>
<path d="M440.9 426.4 431.6 440.2 413.4 457 472.6 402.1" fill="none" stroke="none" marker-start="url(#m10)" marker-mid="url(#m10)" marker-end="url(#m10)"/>
<path d="M504.1 363.7" fill="none" stroke="none" marker-start="url(#m5)" marker-mid="url(#m5)" marker-end="url(#m5)"/>
<path d="M490 388.1" fill="none" stroke="none" marker-start="url(#m9)" marker-mid="url(#m9)" marker-end="url(#m9)"/>
<path d="M491.3 388.3 483.2 395.2" fill="none" stroke="none" marker-start="url(#m0)" marker-mid="url(#m0)" marker-end="url(#m0)"/>
<path d="M495.8 374.9 398.1 469.1" fill="none" stroke="none" marker-start="url(#m10)" marker-mid="url(#m10)" marker-end="url(#m10)"/>
<path d="M473.7 400.2" fill="none" stroke="none" marker-start="url(#m9)" marker-mid="url(#m9)" marker-end="url(#m9)"/>
<path d="M429.8 445" fill="none" stroke="none" marker-start="url(#m0)" marker-mid="url(#m0)" marker-end="url(#m0)"/>
<path d="M409.5 463.2 423.3 454.8" fill="none" stroke="none" marker-start="url(#m10)" marker-mid="url(#m10)" marker-end="url(#m10)"/>
<path d="M515.2 360.4" fill="none" stroke="none" marker-start="url(#m3)" marker-mid="url(#m3)" marker-end="url(#m3)"/>
<path d="M406 462.4" fill="none" stroke="none" marker-start="url(#m11)" marker-mid="url(#m11)" marker-end="url(#m11)"/>
<path d="M469.7 403.5" fill="none" stroke="none" marker-start="url(#m6)" marker-mid="url(#m6)" marker-end="url(#m6)"/>
<path d="M518.5 359.4" fill="none" stroke="none" marker-start="url(#m3)" marker-mid="url(#m3)" marker-end="url(#m3)"/>
<path d="M393 464.6" fill="none" stroke="none" marker-start="url(#m6)" marker-mid="url(#m6)" marker-end="url(#m6)"/>
<path d="M519.9 357.6" fill="none" stroke="none" marker-start="url(#m5)" marker-mid="url(#m5)" marker-end="url(#m5)"/>
<path d="M543.5 349.5" fill="none" stroke="none" marker-start="url(#m3)" marker-mid="url(#m3)" marker-end="url(#m3)"/>
<path d="M448.2 414.9 501.1 379" fill="none" stroke="none" marker-start="url(#m5)" marker-mid="url(#m5)" marker-end="url(#m5)"/>
<path d="M443 430.7" fill="none" stroke="none" marker-start="url(#m11)" marker-mid="url(#m11)" marker-end="url(#m11)"/>
<path d="M518.9 360.9" fill="none" stroke="none" marker-start="url(#m9)" marker-mid="url(#m9)" marker-end="url(#m9)"/>
<path d="M436.1 433.5" fill="none" stroke="none" marker-start="url(#m0)" marker-mid="url(#m0)" marker-end="url(#m0)"/>
<path d="M465.3 413.3 475.9 389.2" fill="none" stroke="none" marker-start="url(#m5)" marker-mid="url(#m5)" marker-end="url(#m5)"/>
<path d="M452.2 426.6" fill="none" stroke="none" marker-start="url(#m10)" marker-mid="url(#m10)" marker-end="url(#m10)"/>
<path d="M509.4 367.4" fill="none" stroke="none" marker-start="url(#m5)" marker-mid="url(#m5)" marker-end="url(#m5)"/>
<path d="M393.7 462.9" fill="none" stroke="none" marker-start="url(#m10)" marker-mid="url(#m10)" marker-end="url(#m10)"/>
<path d="M532.8 359.3" fill="none" stroke="none" marker-start="url(#m5)" marker-mid="url(#m5)" marker-end="url(#m5)"/>
<path d="M518.3 366.7" fill="none" stroke="none" marker-start="url(#m3)" marker-mid="url(#m3)" marker-end="url(#m3)"/>
<path d="M423.7 449.1" fill="none" stroke="none" marker-start="url(#m6)" marker-mid="url(#m6)" marker-end="url(#m6)"/>
<path d="M446.8 432.4" fill="none" stroke="none" marker-start="url(#m5)" marker-mid="url(#m5)" marker-end="url(#m5)"/>
<path d="M448.5 413.8 448.7 415.9" fill="none" stroke="none" marker-start="url(#m6)" marker-mid="url(#m6)" marker-end="url(#m6)"/>
<path d="M527.1 351.5" fill="none" stroke="none" marker-start="url(#m5)" marker-mid="url(#m5)" marker-end="url(#m5)"/>
<path d="M283.4 574.9 279.7 573.1 285.3 568.8 290.4 568.9 288.6 569.3 281.6 575.9 282.1 575.9 285.8 571.8 288.1 569 282.1 575.7 282.2 576.7 284.8 573.7 287.8 570.3 283.1 572.4 274.3 583 285.8 569.8 288.3 568.4 287.1 571.2 275.4 581.8 282.5 577.3 299.3 572.7 335.9 520.8 385.4 484 380.6 485.3 337.2 530.8 381.6 488.3 385.9 485.7 387.6 482.6 404.5 458.7 344.4 520 379.3 490 401.9 467.5 323.6 541 412.2 461.2 332 538.1 371.1 497.6 309.1 564 310.7 552.5 298.3 564.1 368.8 502 289.6 571.1 346.8 517.4 383.2 490.8 321.5 543.6 307 547.7 405.3 459.2 311.8 550.4 361.6 507.5 350.1 526 401.8 469.8 369.3 504.4 343 513.4 316.3 542.4 394.9 479.7 327.3 539.2 389.7 480.7 375.7 494.1 356.2 509.7 411.1 457.1 371.6 503.3 363.5 506.3 375.5 491.9 308.6 556.1 344.6 526.1 288.6 576.7 299.6 554.1 292.3 571.9 358.6 507.2 330.3 539.4 310.1 556.2 338.9 530 404.2 461.2 290.5 564.6 301.7 562.7 399.2 474.4 311.3 546.2 366.9 492.7 292.7 558.8 288.9 567.6 365.3 503.5 380.2 488 313.5 552.5 343.8 519.2 309.7 559.2 392.4 479.4 303.8 559 355.2 506.2 402.1 460.1 319.5 556.7 378 488.8 348.3 516.3 391.4 469.9 394.1 472 349.2 515.9 346.5 520.3 385.4 486.8 375.1 489.8 328.6 536.4 408.4 467.4 349 514.6 317.3 545.3 333.5 525.1 335.4 525.7 346.7 513.1 333.8 538.3 343.9 520.5 413 465 420.9 468.7 320.3 546.2 326.4 539.4 334.5 530.7 313.2 544.8 317.7 552.1 347.5 517.6 329.1 514.8 297.4 566.6 349.9 511.2 348.7 521.9 409.2 466.2 397.5 478.9 372.2 504.7 351.2 511.9 300.6 561.1 368.7 500.2 403.6 464.9 403.1 456 402.9 465.1 381.6 490.5 328.1 532.2 308.9 552.7 312.5 546.2 339.8 532.4 304.9 565 322.8 536.3 407.8 459.5 381.1 488 376.9 494.2 307.1 556.7 344.8 509.2 350.7 519.5 403.4 466.5 375.2 500.9 322.9 537.4 318.2 543.1 299.7 561.6 354.3 521.6 367.8 503.5 338.5 529.7 408.4 468.7 384.5 490.1 361.1 516.1 334.9 526.6 370.2 498.7 375.7 496 381.5 491 325.4 537 334.1 523.9 315.7 546.4 302.4 556.7 325.4 538.2 321.6 546.7 323.8 543 344.8 516.1 333.5 528.1 379.7 489.9 321.4 547 377 491.3 399.8 471.7 346.6 512.9 387.6 479.7 294.4 563.4 319.9 544.3 296.7 563.5 347 515 333.7 529.5 347.9 518.7 315.2 547.1 293 572.7 383 486.5 404.7 464.9 312.3 554.1 377.4 485.9 332.7 535.5 378.8 486.6 364.1 506.1 380.7 485 409.9 457.3 320 539.3 406.3 481.6 313.2 551.4 384.2 478.8 309.9 559.8 311.5 550.8 338.4 521.6 307.8 544.9 387.8 479.6 289.4 568.1 324.1 527.5 353.9 502.6 388.2 481.8 410 461.1 354.9 512.7 308.1 549 317.1 549.6 364.6 504.3 305.5 557.7 392.4 474.7 390.6 473.8 377.5 489.5 411.1 463.5 343.5 522.2 407.5 462.4 310.4 549.7 320.2 545.9 356.6 515.8 398.5 470.9 293 579.2 399.9 480.5 330.2 527.2 396.2 474.7 394.7 474.5 401.5 474.3 357.4 508.4 297.9 556.2 322 536.5 331.3 533.2 368.5 498.6 326.1 531.3 347.2 515.9 328.7 528.6 361.8 498.7 304.2 554.8 334 527.4 397.4 471.9 319.9 538.2 351.2 521.2 381.2 480 376 495.7 346.5 521.3 298.8 569.1 399.1 476.8 400.2 464.5 387.3 483.3 384.9 487.2 400.4 473.8 398.1 474.1 345.2 517.8 338.6 531.6 339 515.8 302.1 557.5 310.9 552.2 375.5 496.5 378.4 487.1 374.4 494.2 356.9 504.1 306.5 556.9 336.4 532.8 406 463 407.9 464.6 321.2 537.2 334.7 531.8 310.2 553.3 331.9 532.7 344 523.3 321.6 540.9 398.7 466.2 297 566.4 343 524.6 293 563.7 333.6 534.5 382.7 485.3 301.6 565.3 359.5 506.7 361.5 510.7 358.9 508.8 349.6 515.6 358.5 495.7 321 544.9 324.1 548.3 384.8 484.4 309.1 554.8 391.1 479 398.3 468.1 356 505.5 323.1 543.1 342 523.9 354.3 518.3 370.3 488.6 405.9 465.8 341.7 526.1 313.4 551.6 327 540 405.4 462.8 307.7 543.5 326.9 554.3 291.5 571.7 365.6 505 346.3 519.8 392.9 480.9 369.6 501.9 369.5 498.9 372.6 494.3 345.6 522.5 325.5 541.6 293.1 576.9 334.7 526.1 288.8 573.7 311.5 547.4 333.1 529.4 355.5 517 332.5 527.9 313.3 548.9 380.6 485.6 328.3 539.3 330.2 532.2 313.9 547.5 295 565.7 383.8 488.5 343.9 521.4 356.7 510.4 395.5 471.6 396.3 469.8 359.7 507.1 404 462 354.1 510.3 396 469.8 345.4 519.1 321.6 545.1 349.4 516.3 308.9 558 338.4 534.2 315 547.2 341.7 519.6 298.1 563.6 338.9 521.1 360.1 509.8 409 456.4 409.8 455.5 368 495.8 340.4 517.6 381.5 487.5 401.6 465.5 372.9 493 311.7 553.3 358.9 498.5 348.8 515.8 403.1 468.9 372.8 499.2 405.6 457.7 293.5 570.2 376.7 495.3 315.6 550.9 350.1 524.9 397.7 481.2 423.1 470.5 317.2 551.4 395.9 474.9 300.7 556.5 326.3 540.3 316.5 551.8 405.5 455.4 302.4 564.7 386.2 479.3 355.9 517.1 374.1 486.6 297.4 564.3 347.6 523.8 355.8 509.1 327.4 545.1 366.7 496.6 295.4 563 294.1 562.2 370 499.8 319.5 543.3 388.2 467.1 360.2 511 399.7 473.8 396.3 478.1 378 494.8 410.5 460.2 315.8 543.8 355.5 506.8 302 558.5 375.2 490.5 396.4 485.9 401.6 472.3 352.9 512.1 404.1 467.3 338.7 534.5 328.9 530.6 380.4 490.2 398.2 462.4 293.6 561.8 352.8 517.3 343.2 522.8 290.2 570 300.2 561.3 391.4 480.2 406.3 464.4 357.5 506.9 317.3 546.9 412.4 462.7 335.6 520.4 301.2 556.6 381.6 477.9 372.9 490.7 370.9 491 333.6 528.3 323 542.5 316.9 549.5 359.5 500.8 324.1 535.6 377.1 488.6 403.3 469.4 392 474.4 289.4 568.9 369.3 500.3 291.6 566.9 324.1 540 321.8 537 357.5 510.6 289.2 566.3 315.9 548.2 399.6 460.2 287.1 567.5 328.9 533.2 349.9 519 302.3 564 315.6 531.9 365.5 501.8 328.4 536.1 362.1 515 407.2 466.1 299.4 564 369.2 494 287.6 569.3 334.6 527.9 378.6 492.3 406.4 462 343.2 518.5 368 503.3 350.9 520.7 299.1 558.1 297.1 563.1 358.9 512.1 396.2 471.7 318.8 544.5 380.7 487.2 365.3 500.7 330.1 536.3 372.6 501.2 296 568.6 315 540.7 331.2 526.2 365.7 497.6 292.2 571.5 292.8 570.6 405.9 469 354.6 514.1 398.6 468.8 411.8 457.6 305.3 552.5 335.6 532 408.6 456.8 287 573.1 411.2 460.7 422.7 468.9 380.2 484.7 336.2 529.7 375.9 499.9 290.7 573.7 329.9 532.2 289.9 569 342.1 526.4 371.5 493.3 287.1 570.1 398.4 468.8 295 561.1 317.6 548.2 335.9 529.3 301.3 562.1 380.3 486.5 377.8 501.3 361.8 506.7 337.1 520.4 364.6 508.3 333.5 530.1 371.1 497.4 399 469.7 382.7 482.8 334.5 533.6 398.9 471.8 329.5 542 370.4 493.2 379.7 488 340.6 528.9 396.4 475.4 410.1 461.7 301.2 560 295.7 573 322.9 539.5 286.5 567.8 409 457.1 324.5 547.5 307.4 557.4 356.5 501.9 409.6 465.8 393.6 469.4 396.5 471.8 311.3 551.2 319 541.7 296.1 562.5 375.8 494.3 336.1 538 372.3 499.4 290.5 570.4 378.9 486.6 300.7 557.2 413.9 462.3 321.9 544.8 350.7 520.3 392.3 481 368.9 503.7 295 563.1 401.9 464.9 377.5 486.9 381.6 486.6 350.5 514.2 307.1 555.1 366.7 495.3 326.9 539.5 393.4 479.2 327.8 536 371.5 496.7 354.7 511.1 304.7 555.2 374.5 496.9 408.7 461.3 294.8 568.3 359.8 504.9 368.9 499.6 394.4 478.9 325.8 536.4 390.1 476.4 380.4 488.5 309.8 551.4 383.9 490.9 344.5 523.7 308.1 546.1 316.3 545.2 330.1 537 381.2 489.8 303.4 554 364.7 496.3 387.2 476.7 353.2 515.4 397.7 464.9 378.1 491.5 351.6 514.4 410.8 464.3 354 508 302 553.5 315.2 551.3 389 476.8 395.9 476.4 334.6 526.7 331.5 532 315.2 553.4 393.3 475.7 408.4 456.5 400.8 460.1 341.8 522.2 398.9 470 312 550.7 292.6 563 356.6 508.3 321.1 524.6 348.2 519.6 292.4 562.4 306.4 551.8 344 512.9 353.2 518.4 374.5 488.5 378.8 487.3 334.8 529.3 344.2 522.5 322 541.5 304 553.9 336.8 527.2 364 511.1 417.7 463.9 379.4 487.7 390.3 481.3 387.2 474.4 404.9 466.3 404 469.1 307.8 552.7 330 541.1 321.6 544.9 388.2 481.2 342.5 511.6 404.7 463.1 360.2 509.1 288.5 569.5 313.2 541.8 336 525.9 307.9 563.7 358.6 510.4 293.7 570.3 317.2 546.1 290.7 576.1 295.4 553.8 376 492.4 353.7 519.9 409.8 465.2 303.2 559.1 309.4 551.1 290 562.8 310.4 549.8 323.1 539.4 338.6 522.1 320.4 548.1 309.6 556.5 334.2 529.8 294 569.8 390.5 478.4 358.9 508.5 349.6 513.8 343.8 518.3 353.4 506.3 411.8 458.6 336.7 531.8 360.2 510.4 309.3 546 334.2 526.1 297.8 562.7 402.5 481 371 493.6 383.1 484.3 380.8 483.6 305.2 560.8 363.2 496.5 306.7 559.2 361.5 499.1 301.3 556.5 305.3 554.8 306.5 564.8 358.9 516.8 303.4 562.8 331.3 530.7 339.5 524.2 414.3 462.8 383.2 481.4 362.1 508.2 376.4 486.2 289.7 575.2 336.9 535.8 325 543.5 369.5 496.9 302.9 559.4 404.5 463 327.7 537 401.4 477.8 395.9 477.8 343.8 518.3 289 576.6 299.8 558.7 333.1 527 379.2 487.9 347.7 520.1 403.8 464.1 399.7 467.5 325.2 533.9 409.3 456.9 352.5 512.2 292.1 561.7 292.9 572.1 334.9 533.6 344 531.7 308.2 552.2 396.5 465.5 323.4 536 383.3 483.5 316.4 551.8 339.7 522 331.3 525.9 383.8 485.7 333.5 532.7 317.7 551.9 390.7 475.2 368.5 498.6 306.2 552.7 313.7 543.7 299.2 563.2 394.1 480 337.1 523 393.5 479.9 361.5 507.8 387.7 483.1 384.8 489.4 343.8 518.5 321.8 547.8 334.8 527.9 354.6 513.6 409.5 455.1 324.3 542.9 379.5 488.8 317.4 543 366.1 500.5 379.8 489.2 288.8 576.7 379.6 490.7 395.6 472.6 399.3 467.5 399.6 475.6 333.8 529 301.4 553.3 328.6 533.5 400.1 474.4 371.7 495.5 349.8 515.1 285.5 571.8 296.6 567.1 357.7 511 399.5 476.2 362 501.7 329.5 529.6 283.8 569.9 310.2 546.7 364 502.5 322.2 539 361.3 519.6 291 569.1 356.5 513.6 345.9 522.1 287.5 569.9 390.2 478.9 386.5 483.4 301.9 562 364.7 500.6 392.4 471.6 351.8 515.2 379.6 484.6 300.8 558.8 293 566.3 317.7 548.6 382.4 484 323 540.7 392.7 475.6 293.3 564.9 349 520 340.4 522.3 390 481.1 372.4 497.8 377.6 484.8 359.7 499.9 305.9 555.4 386 489.5 377.9 491.1 375.2 485.3 343.3 519.4 339.1 524.1 303.4 555.4 389.4 479.4 338.8 520.8 405.4 461.4 317.5 539.1 349.4 520.1 325.9 527.9 365.5 506.2 399.5 475.2 374 489.1 405.6 464.5 402.3 464.8 354.7 503.5 363.2 498.6 360.7 506.7 397.8 474.1 401.2 464.4 400.4 468.9 342.8 525.6 389.5 485.8 344 522 412.7 453.5 403.6 457.9 367.9 498.8 366 498.6 347.4 514.2 380.1 483.8 387.8 477.5 395.7 473.9 353 515.5 379.7 483.6 397.9 480.6 405.6 471.4 341.3 521.4 377.8 491 367 507.1 379.3 483.5 379.5 484.8 368.7 494.7 410 455 389.7 482.3 363.9 501.1 411.5 459.3 366.6 500.2 398.8 469.3 400.5 476.5 350.5 513.5 364.6 497.2 354.9 503.4 410.4 456.3 373.6 494.3 407.2 463.6 387.4 482.2 397.1 469.8 359.1 508.8 370.2 498.8 399.3 463.8 394.7 476.2 411.1 461.3 398.3 469.5 393.7 480.6 391.3 477.5 359.3 502.5 353.7 516.3 389.5 487.9 382.1 479.7 405.5 463.9 361.8 508.6 360.7 508.2 412.6 463 380.1 494.1 372.5 485.3 391.1 481 337.2 518.3 352.1 508.1 406.4 458 351.4 516 406 455.4 410.1 460.6 341.4 515 384.6 493.5 361.8 501.4 390.7 477.7 407.6 456.4 362.2 500.8 354.4 517.6 411.4 460.2 395.7 467.3 366.9 496.9 404 464.8 384.5 492.4 348.2 515.9 370 498.9 398.9 475.7 370.2 508.6 390.8 481 351.1 508.4 396.7 467.2 360.4 514.1 366.8 501.6 393.7 465.2 354.1 508.5 373.5 491.1 400.5 467.1 390.3 481.4 348.3 519.8 351.7 520.2 393.8 465.3 345.4 520.5 351.9 512.1 342.6 516.2 357.2 512.6 383.7 477.3 359.9 498.8 346.7 526.2 390.6 479.9 386.6 485.7 384.9 489.8 382.5 478.7 391.8 483.9 355.5 510.4 343.1 523.9 372.3 498.7 343.5 524.1 371 493.8 402.7 466.9 349.2 516.5 394.7 479.6 380.7 475.6 407.8 469.5 377.7 484.9 397.6 482.7 399.2 472.6 391.1 486.5 355.7 508.6 415 464.6 377.5 492.1 358.2 509.6 405.4 466.8 381.4 473.5 365 493.7 392 468.3 376.1 491.6 389.4 477.9 408.4 465.9 343 523.1 400.3 475.5 407.8 458.6 403.6 467.9 414.3 453.8 369.7 491 354.1 502.1 367.3 498.7 340.9 518.4 388.1 477.5 348 511.7 402.5 461.4 422.4 463.4 372.7 494.4 393.5 468.5 361.3 503.5 415.1 455.6 405.9 456.3 393.3 480.8 378.6 484 343.4 523.5 412.5 455.5 338.9 520.7 418.2 469.3 375 488.8 411.1 451.2 368.7 495 363.6 497.2 391.1 482.9 396.8 474.3 381.2 480.2 347.3 526.3 353 510.8 367.7 491.8 367.9 504.1 391 480.7 410 454.7 384.6 477.3 383.6 483.3 343.4 517.2 364.3 504.5 401.7 469 399.1 463.7 350 509 392.1 475 408 468.6 408.5 458 376.9 493.3 368.6 494.3 346.9 519.7 360.6 502 348.4 518.3 378.6 484 355 506.2 411.7 468.4 355.9 514 341.4 516 411.5 464.7 385.7 481.2 389.3 485.8 385.9 474.9 344.4 519.2 344.8 517.1" fill="none" stroke="none" marker-start="url(#m11)" marker-mid="url(#m11)" marker-end="url(#m11)"/>
<path d="M451.5 422.1" fill="none" stroke="none" marker-start="url(#m5)" marker-mid="url(#m5)" marker-end="url(#m5)"/>
<path d="M481.7 414.8" fill="none" stroke="none" marker-start="url(#m6)" marker-mid="url(#m6)" marker-end="url(#m6)"/>
<path d="M376.6 487.7" fill="none" stroke="none" marker-start="url(#m10)" marker-mid="url(#m10)" marker-end="url(#m10)"/>
<path d="M516.7 362.8 472.2 387.9" fill="none" stroke="none" marker-start="url(#m5)" marker-mid="url(#m5)" marker-end="url(#m5)"/>
<path d="M382.9 486.7 446.2 425.2" fill="none" stroke="none" marker-start="url(#m10)" marker-mid="url(#m10)" marker-end="url(#m10)"/>
<path d="M423.5 457.5" fill="none" stroke="none" marker-start="url(#m11)" marker-mid="url(#m11)" marker-end="url(#m11)"/>
<path d="M432.4 436.4 442 433.6" fill="none" stroke="none" marker-start="url(#m10)" marker-mid="url(#m10)" marker-end="url(#m10)"/>
<path d="M401.5 456.7" fill="none" stroke="none" marker-start="url(#m11)" marker-mid="url(#m11)" marker-end="url(#m11)"/>
<path d="M449.6 429.6" fill="none" stroke="none" marker-start="url(#m5)" marker-mid="url(#m5)" marker-end="url(#m5)"/>
<path d="M422 442.7" fill="none" stroke="none" marker-start="url(#m6)" marker-mid="url(#m6)" marker-end="url(#m6)"/>
<path d="M487.9 384.2" fill="none" stroke="none" marker-start="url(#m10)" marker-mid="url(#m10)" marker-end="url(#m10)"/>
<path d="M500.4 370.4 469.8 404" fill="none" stroke="none" marker-start="url(#m5)" marker-mid="url(#m5)" marker-end="url(#m5)"/>
<path d="M398.5 469.4" fill="none" stroke="none" marker-start="url(#m10)" marker-mid="url(#m10)" marker-end="url(#m10)"/>
<path d="M484.8 386" fill="none" stroke="none" marker-start="url(#m9)" marker-mid="url(#m9)" marker-end="url(#m9)"/>
<path d="M412.5 447.5" fill="none" stroke="none" marker-start="url(#m11)" marker-mid="url(#m11)" marker-end="url(#m11)"/>
<path d="M526 349.2" fill="none" stroke="none" marker-start="url(#m5)" marker-mid="url(#m5)" marker-end="url(#m5)"/>
<path d="M523.8 357.1 516.2 362.7" fill="none" stroke="none" marker-start="url(#m9)" marker-mid="url(#m9)" marker-end="url(#m9)"/>
<path d="M377.1 481.3 413.8 449.1" fill="none" stroke="none" marker-start="url(#m10)" marker-mid="url(#m10)" marker-end="url(#m10)"/>
<path d="M472.3 400" fill="none" stroke="none" marker-start="url(#m9)" marker-mid="url(#m9)" marker-end="url(#m9)"/>
<path d="M424 448.5" fill="none" stroke="none" marker-start="url(#m11)" marker-mid="url(#m11)" marker-end="url(#m11)"/>
<path d="M459.2 412.8" fill="none" stroke="none" marker-start="url(#m9)" marker-mid="url(#m9)" marker-end="url(#m9)"/>
<path d="M438 430.1 485.4 389.8" fill="none" stroke="none" marker-start="url(#m10)" marker-mid="url(#m10)" marker-end="url(#m10)"/>
<path d="M474.6 403.2" fill="none" stroke="none" marker-start="url(#m9)" marker-mid="url(#m9)" marker-end="url(#m9)"/>
<path d="M441.2 437.4" fill="none" stroke="none" marker-start="url(#m11)" marker-mid="url(#m11)" marker-end="url(#m11)"/>
<path d="M504.3 379.6" fill="none" stroke="none" marker-start="url(#m5)" marker-mid="url(#m5)" marker-end="url(#m5)"/>
<path d="M441.5 435.7" fill="none" stroke="none" marker-start="url(#m10)" marker-mid="url(#m10)" marker-end="url(#m10)"/>
<path d="M429.7 436.6" fill="none" stroke="none" marker-start="url(#m11)" marker-mid="url(#m11)" marker-end="url(#m11)"/>
<path d="M458.4 405.5" fill="none" stroke="none" marker-start="url(#m10)" marker-mid="url(#m10)" marker-end="url(#m10)"/>
<path d="M496.6 376.8" fill="none" stroke="none" marker-start="url(#m9)" marker-mid="url(#m9)" marker-end="url(#m9)"/>
<path d="M388 486.3 455 408.9 388.3 487" fill="none" stroke="none" marker-start="url(#m10)" marker-mid="url(#m10)" marker-end="url(#m10)"/>
<path d="M430.8 452.4 357.1 501.8" fill="none" stroke="none" marker-start="url(#m6)" marker-mid="url(#m6)" marker-end="url(#m6)"/>
<path d="M482.4 394.2 457.6 420.9" fill="none" stroke="none" marker-start="url(#m5)" marker-mid="url(#m5)" marker-end="url(#m5)"/>
<path d="M371.6 501.5 384.4 485.5" fill="none" stroke="none" marker-start="url(#m6)" marker-mid="url(#m6)" marker-end="url(#m6)"/>
<path d="M449.6 421.4" fill="none" stroke="none" marker-start="url(#m9)" marker-mid="url(#m9)" marker-end="url(#m9)"/>
<path d="M428.9 445.4" fill="none" stroke="none" marker-start="url(#m10)" marker-mid="url(#m10)" marker-end="url(#m10)"/>
<path d="M452.4 425.2" fill="none" stroke="none" marker-start="url(#m0)" marker-mid="url(#m0)" marker-end="url(#m0)"/>
<path d="M443.5 425.2" fill="none" stroke="none" marker-start="url(#m5)" marker-mid="url(#m5)" marker-end="url(#m5)"/>
<path d="M467.2 404.3" fill="none" stroke="none" marker-start="url(#m9)" marker-mid="url(#m9)" marker-end="url(#m9)"/>
<path d="M466.9 407.7" fill="none" stroke="none" marker-start="url(#m10)" marker-mid="url(#m10)" marker-end="url(#m10)"/>
<path d="M350.2 502.3 330.1 531.3" fill="none" stroke="none" marker-start="url(#m6)" marker-mid="url(#m6)" marker-end="url(#m6)"/>
<path d="M488.8 380.5 507.3 376.5" fill="none" stroke="none" marker-start="url(#m5)" marker-mid="url(#m5)" marker-end="url(#m5)"/>
<path d="M425.9 452.4" fill="none" stroke="none" marker-start="url(#m10)" marker-mid="url(#m10)" marker-end="url(#m10)"/>
<path d="M450.7 418.4" fill="none" stroke="none" marker-start="url(#m5)" marker-mid="url(#m5)" marker-end="url(#m5)"/>
<path d="M502.3 374.7" fill="none" stroke="none" marker-start="url(#m9)" marker-mid="url(#m9)" marker-end="url(#m9)"/>
<path d="M467.2 409.7" fill="none" stroke="none" marker-start="url(#m10)" marker-mid="url(#m10)" marker-end="url(#m10)"/>
<path d="M1289.8 412.9 1283.8 421.1 1216.3 493.5 1214.3 495.6 1284 418.2 1311.1 390.7 1224.2 481.7 1228.4 481.2 1295.1 411.8 1260.1 444.1 1253.9 453 1249.6 466.3 1206.8 501.8 1256.7 445.2 1238.6 468.7 1253.3 459.2 1273.2 437.9 1287.1 413.1 1282.1 423.9 1296.6 406.3" fill="none" stroke="none" marker-start="url(#m0)" marker-mid="url(#m0)" marker-end="url(#m0)"/>
<path d="M1319.6 381.4 1273.6 432.8 1278.7 426 1318.8 384.7 1308 399.9 1312.4 390.6 1315.7 386.3 1308.5 396" fill="none" stroke="none" marker-start="url(#m10)" marker-mid="url(#m10)" marker-end="url(#m10)"/>
<path d="M1272 430" fill="none" stroke="none" marker-start="url(#m11)" marker-mid="url(#m11)" marker-end="url(#m11)"/>
<path d="M1264.3 442.1 1310.4 391.6 1287.2 415.3 1273.3 431.4 1304.5 398.2" fill="none" stroke="none" marker-start="url(#m10)" marker-mid="url(#m10)" marker-end="url(#m10)"/>
<path d="M1294.2 410.4 1280.8 421" fill="none" stroke="none" marker-start="url(#m11)" marker-mid="url(#m11)" marker-end="url(#m11)"/>
<path d="M1273.4 429.8 1278 426.5 1279.1 423" fill="none" stroke="none" marker-start="url(#m10)" marker-mid="url(#m10)" marker-end="url(#m10)"/>
<path d="M1273.9 426.3 1212.5 500.4 1255.9 447.7 1240 458.8 1252.6 456.8 1198.7 511.5 1163.7 550.8 1208.4 501.5 1193.3 520.1 1202.7 511.1 1275.8 422.6 1189.8 522.7 1250.8 454.7 1166.6 538.9 1225.3 480.7 1197.5 519.9 1182.6 533.6 1210.6 519.9 1270.2 432.7 1220.7 480.5 1218 493.8 1251.7 450 1215.7 495.5 1163.8 550.3 1165.3 546.8 1249.4 470.1 1208 498.1 1176.3 536.6 1276.3 429.8 1183.7 527.3 1248.9 452.8 1189.6 520.5 1245.5 459.3 1218.6 491.9 1155.4 562.5" fill="none" stroke="none" marker-start="url(#m1)" marker-mid="url(#m1)" marker-end="url(#m1)"/>
<path d="M1267.5 431.6 1303.7 402.6 1307.7 395.2 1311.7 388.6" fill="none" stroke="none" marker-start="url(#m10)" marker-mid="url(#m10)" marker-end="url(#m10)"/>
<path d="M1293.9 407.6 1268.5 432.8" fill="none" stroke="none" marker-start="url(#m11)" marker-mid="url(#m11)" marker-end="url(#m11)"/>
<path d="M1266.4 437.6 1289.5 412.5" fill="none" stroke="none" marker-start="url(#m10)" marker-mid="url(#m10)" marker-end="url(#m10)"/>
<path d="M1152.2 570.8 1136 593.4 1148.9 572.6 1160.2 561.7 1145.1 573.3 1153.2 565.4 1168.6 551.7 1135.3 583.5 1155.1 564.3 1155.3 562.4 1257.6 438.5 1168.9 545.1 1334.9 370.5 1250.3 460.3 1193.8 524.4 1300.1 402.9 1311 386.1 1289.3 412.4 1334.9 369.9 1208.7 495.9 1257.4 445.8 1236.7 465.7 1272.5 430.7 1211.9 497.6 1282 424.5 1243 462.1 1233.4 482 1285 421.4 1210.4 499.1 1219.4 487.3" fill="none" stroke="none" marker-start="url(#m2)" marker-mid="url(#m2)" marker-end="url(#m2)"/>
<path d="M1285.5 417 1303.9 401.6" fill="none" stroke="none" marker-start="url(#m10)" marker-mid="url(#m10)" marker-end="url(#m10)"/>
<path d="M1277.3 429.3" fill="none" stroke="none" marker-start="url(#m11)" marker-mid="url(#m11)" marker-end="url(#m11)"/>
<path d="M1320.2 380.4 1296.9 411.6 1281.9 419.2 1309.2 390.1" fill="none" stroke="none" marker-start="url(#m10)" marker-mid="url(#m10)" marker-end="url(#m10)"/>
<path d="M1273.1 427.4 1309.2 395 1290.5 413.5" fill="none" stroke="none" marker-start="url(#m11)" marker-mid="url(#m11)" marker-end="url(#m11)"/>
<path d="M1287 418.2" fill="none" stroke="none" marker-start="url(#m10)" marker-mid="url(#m10)" marker-end="url(#m10)"/>
<path d="M1302.7 400.5" fill="none" stroke="none" marker-start="url(#m11)" marker-mid="url(#m11)" marker-end="url(#m11)"/>
<path d="M1245.3 459.5 1317.1 382.8" fill="none" stroke="none" marker-start="url(#m10)" marker-mid="url(#m10)" marker-end="url(#m10)"/>
<path d="M1287.4 412.9" fill="none" stroke="none" marker-start="url(#m11)" marker-mid="url(#m11)" marker-end="url(#m11)"/>
<path d="M1301.1 402.1 1310.6 389.3 1283.1 421.3" fill="none" stroke="none" marker-start="url(#m10)" marker-mid="url(#m10)" marker-end="url(#m10)"/>
<path d="M1305.1 398.9 1288.4 413.2" fill="none" stroke="none" marker-start="url(#m11)" marker-mid="url(#m11)" marker-end="url(#m11)"/>
<path d="M1307.1 403.1 1319.4 389.7 1256.7 446.7 1286.1 419.7 1299.6 399.6 1307.8 391 1284.9 419.6 1263.4 448.8" fill="none" stroke="none" marker-start="url(#m10)" marker-mid="url(#m10)" marker-end="url(#m10)"/>
<path d="M1280.2 424.1" fill="none" stroke="none" marker-start="url(#m11)" marker-mid="url(#m11)" marker-end="url(#m11)"/>
<path d="M1281 423.4 1273 432.9 1291.1 405.7 1318.3 379.9 1302.5 401.8 1269.9 433.9" fill="none" stroke="none" marker-start="url(#m10)" marker-mid="url(#m10)" marker-end="url(#m10)"/>
<path d="M1197.6 518.7 1184.9 527.3 1187.2 520.1 1187.8 519.5 1186.3 527.4 1219 485.3 1202.2 501.1 1160.7 560.7 1171.3 544.1 1175.6 535.2 1219.6 482.9 1192.3 521.2 1187.3 506.3 1217.8 485.1 1214.6 501.6 1169.2 549.1 1172.3 548.8 1191.3 514.3 1184.8 522.8 1152.2 567 1185.7 518.3 1224.2 493 1204.6 514.1 1157.6 553.4 1205.3 511.6 1163.3 552.5 1222.5 486.5 1191.9 523.5 1216.4 493.3 1210 505.6 1218 483.4 1187.4 523.3 1185.2 524.6 1150.3 558.1 1203 514.1 1168 547.2 1169.7 545.5 1199 523.1 1197.6 510.7 1167.6 564.5 1198.8 531 1147.4 563.7 1154.4 565.4 1193.6 521.1 1200.1 507 1186.3 536.4 1199 517.5 1212.2 498.3 1186.6 519.2 1218.6 496.3 1184.1 526.5 1214.7 502.6 1201 515.9 1205.8 522.6 1184.4 524.6 1211.2 503.9 1198.2 515.6 1222.1 502.8 1213.2 497 1204 515.8 1178.8 538.9 1225.7 493.8 1192.5 512.2 1171.8 545.8 1206.3 493.9 1163.9 545.4 1153.7 569.1 1217.9 494.9 1171.8 550.6 1176.3 537 1187.9 529.7 1164.3 564.2 1187.6 525.7 1181.8 538.6 1155.9 566.4 1175.9 536.6 1194.2 505.5 1220.2 491.5 1195.2 516.9 1218.5 484.8" fill="none" stroke="none" marker-start="url(#m4)" marker-mid="url(#m4)" marker-end="url(#m4)"/>
<path d="M1272.5 431.7 1315.5 390.4 1290.5 412.6 1275.2 427.7 1254.4 453.5" fill="none" stroke="none" marker-start="url(#m10)" marker-mid="url(#m10)" marker-end="url(#m10)"/>
<path d="M1302.6 397 1313.8 387.4 1294.6 408.3" fill="none" stroke="none" marker-start="url(#m11)" marker-mid="url(#m11)" marker-end="url(#m11)"/>
<path d="M1281.7 424.7 1315.7 386.4 1310.8 391.1" fill="none" stroke="none" marker-start="url(#m10)" marker-mid="url(#m10)" marker-end="url(#m10)"/>
<path d="M1303.7 398.8 1279.4 423.1" fill="none" stroke="none" marker-start="url(#m11)" marker-mid="url(#m11)" marker-end="url(#m11)"/>
<path d="M1307.4 396 1285.4 424.2" fill="none" stroke="none" marker-start="url(#m10)" marker-mid="url(#m10)" marker-end="url(#m10)"/>
<path d="M1370.3 317.8 1356.1 340.5 1351.2 345.2 1351.4 348.3 1339.3 363.3 1389.5 308.1 1338.3 361.4 1353.1 347.3 1386.2 310.1 1383.3 315.8 1385.6 304.2 1334.6 368.5 1354 344.4 1361.7 333.7 1372.6 322.3 1356.2 349.7 1363.5 336.4 1395.6 299.8 1355.2 338.5 1383.5 306.6 1367.8 328.3 1394.3 301 1378.7 314.2 1338.9 361 1378.1 318.6 1375.7 323 1386.9 305 1364.9 335.1 1345.2 355.8 1394.4 303.1 1345.4 353.9 1349.4 344.6 1352.1 346.6 1360.3 340.5 1358.3 338.1 1355.6 333.1 1367.3 330.4 1386.8 309.3 1389.2 302.3 1359.9 334.8 1353 340.2 1348.9 349.9 1373.5 320 1389.3 309.7 1363.5 330.2 1385.3 312.9 1347.7 344.3 1372 324.4 1336 359.4 1360 336.8 1354.2 341.5 1365.1 334.2 1351.7 346.4 1363.3 329.1 1355.2 344.4 1345.6 352.5 1342.1 353.8 1343.3 345.5 1382.2 312.6 1359.1 336.8 1349.7 352 1380.8 314.7 1372.7 324.9 1364.1 327.2 1387.3 300 1372.6 328.9 1375.3 321.5 1366.4 331.1 1338.2 358.6 1354.4 342.5 1383.4 312.2 1390 303.6 1349.3 348.1 1340.8 352.6 1365 328.8 1375.4 322 1390 305.5 1342.3 357.6 1389.4 304.4 1393.4 298 1391.1 300.5 1339.6 342.8 1367.2 324.8 1352.9 343.8 1375.9 318.3 1339 359 1383.5 315.8 1343.9 353.9 1339.1 362.2 1340.7 362.6 1331.7 356.8 1352.4 345 1350.9 343 1388.4 310.2 1354.4 339.5 1375.4 313.7 1347.7 353.3 1350.4 346.4 1374 317.7 1346.6 352 1393.8 296 1345.2 346.4 1381 313.3 1398.9 302.1 1349.5 345.8 1351.9 341.7 1365.6 334.6 1374.4 319.2 1393.4 303.5 1344.1 356.5 1381.7 311.4 1393.9 300.3 1332.6 363.1 1344.9 350.4 1352.2 341.9 1390.7 302.5 1336.2 361.9 1351.1 338.4 1376.1 320.8 1375.5 319.4 1366.3 327.3 1394.6 296.4 1351.1 346 1343.3 354.4 1352.3 346.2 1335.8 363.5 1338.6 361.8 1350.8 347.3 1372.6 318.5 1336.3 358.4" fill="none" stroke="none" marker-start="url(#m5)" marker-mid="url(#m5)" marker-end="url(#m5)"/>
<path d="M1283.4 422.3 1299.5 410.3 1315.2 387.6 1304.6 397.8 1270.5 437.6" fill="none" stroke="none" marker-start="url(#m10)" marker-mid="url(#m10)" marker-end="url(#m10)"/>
<path d="M1312.7 390.7" fill="none" stroke="none" marker-start="url(#m11)" marker-mid="url(#m11)" marker-end="url(#m11)"/>
<path d="M1261.4 443.8 1283.1 421.3 1321.3 381.9 1312.6 384 1298 403.2" fill="none" stroke="none" marker-start="url(#m10)" marker-mid="url(#m10)" marker-end="url(#m10)"/>
<path d="M1264.5 440.3" fill="none" stroke="none" marker-start="url(#m11)" marker-mid="url(#m11)" marker-end="url(#m11)"/>
<path d="M1298.9 401.3" fill="none" stroke="none" marker-start="url(#m10)" marker-mid="url(#m10)" marker-end="url(#m10)"/>
<path d="M1168.5 551.1 1160.2 555.9 1177.3 535.8 1167.5 542.8 1165.5 549.3 1163.7 554.9 1166.1 539.7 1148.4 564.5 1175.4 535.5 1162.6 550 1150.9 566 1175.6 537.4 1149.3 568.1 1174.3 541.2 1156.6 564.6 1228.6 482.1 1287.5 417.1 1210.8 502.1 1207.4 500.3 1232.8 481.6 1219.2 490.2 1226.5 483.7 1260.2 442.8 1232.4 477.2 1256.2 451.1 1208.9 501.5 1238.2 476.1 1183.6 521.3 1294.4 408.5 1204.5 505.1 1227.9 480 1234.4 477.6 1263.6 432.1 1240.4 469 1254.1 452 1218.6 499.6 1220.1 493.6 1218 491.9 1290.7 412.9 1284 417.7 1184.8 526.3 1191.5 521.4 1183.1 523.5 1208.8 502.6 1233.5 469.3 1206.5 502.5 1263.8 439.6 1228.5 483.6 1261.3 450.8 1184 535.1 1179.3 536.7 1256.3 449.7 1230.7 478.7 1206 507.7 1253.3 458" fill="none" stroke="none" marker-start="url(#m6)" marker-mid="url(#m6)" marker-end="url(#m6)"/>
<path d="M1308.5 394" fill="none" stroke="none" marker-start="url(#m11)" marker-mid="url(#m11)" marker-end="url(#m11)"/>
<path d="M1274.7 433" fill="none" stroke="none" marker-start="url(#m10)" marker-mid="url(#m10)" marker-end="url(#m10)"/>
<path d="M1283.1 423.5" fill="none" stroke="none" marker-start="url(#m11)" marker-mid="url(#m11)" marker-end="url(#m11)"/>
<path d="M1296.3 408.8 1317.9 381.3" fill="none" stroke="none" marker-start="url(#m10)" marker-mid="url(#m10)" marker-end="url(#m10)"/>
<path d="M1264.3 439.6" fill="none" stroke="none" marker-start="url(#m11)" marker-mid="url(#m11)" marker-end="url(#m11)"/>
<path d="M1308.8 389.6" fill="none" stroke="none" marker-start="url(#m10)" marker-mid="url(#m10)" marker-end="url(#m10)"/>
<path d="M1287.5 416.2" fill="none" stroke="none" marker-start="url(#m11)" marker-mid="url(#m11)" marker-end="url(#m11)"/>
<path d="M1286.3 416.7 1267.1 435.1 1250.5 459.1 1273.9 432.2 1280.7 424.5 1280.8 423.5" fill="none" stroke="none" marker-start="url(#m10)" marker-mid="url(#m10)" marker-end="url(#m10)"/>
<path d="M1291.5 410.8 1272.8 427.2" fill="none" stroke="none" marker-start="url(#m11)" marker-mid="url(#m11)" marker-end="url(#m11)"/>
<path d="M1275 432.2" fill="none" stroke="none" marker-start="url(#m10)" marker-mid="url(#m10)" marker-end="url(#m10)"/>
<path d="M1273.4 432.8 1231.9 479.2 1234.9 473.7 1208.9 506.4 1285.3 412.1 1161 553.9 1188.2 518.9 1211.6 494.5 1272.6 432.4 1181.2 528.9 1171.4 542.2 1181.9 536.4 1246.8 462.6 1267.7 450.1 1205.4 505.9 1226.3 483.6 1175.5 531.1 1281.2 423 1288.6 413.4 1237.6 472.5 1243.7 464.3 1165.2 548.3 1220.4 483.4 1294.1 411.5 1139 576.8" fill="none" stroke="none" marker-start="url(#m7)" marker-mid="url(#m7)" marker-end="url(#m7)"/>
<path d="M1293.7 407.3 1299.2 405.9 1277.5 425.1 1312.4 393.1 1268.9 434.8" fill="none" stroke="none" marker-start="url(#m10)" marker-mid="url(#m10)" marker-end="url(#m10)"/>
<path d="M1309.3 393.7" fill="none" stroke="none" marker-start="url(#m11)" marker-mid="url(#m11)" marker-end="url(#m11)"/>
<path d="M1287.5 415.5 1269.6 437.6 1288.1 418.4 1259 449.1" fill="none" stroke="none" marker-start="url(#m10)" marker-mid="url(#m10)" marker-end="url(#m10)"/>
<path d="M1298.6 404.3" fill="none" stroke="none" marker-start="url(#m11)" marker-mid="url(#m11)" marker-end="url(#m11)"/>
<path d="M1278.3 425.1" fill="none" stroke="none" marker-start="url(#m10)" marker-mid="url(#m10)" marker-end="url(#m10)"/>
<path d="M1127.9 594.7 1129.2 591.3 1129.9 589.6 1124.4 594 1133.9 584.3 1148.4 571.8 1146.5 575.2 1135.6 583.7 1140.2 578.4 1271.7 435.2 1300.1 397.2 1222.8 489.1 1330.6 375.5 1314.5 387.2 1290.4 411.3 1201.3 507.4 1183.5 528.5 1274.4 426.2 1224.7 486.1 1262.6 443.2 1223.8 489 1336.9 363.1 1238 473.6 1282.6 427.3 1196.5 519.7 1273.1 442.4 1160 560.6 1313.2 386.5 1202.9 511.5 1188.7 527.7 1308.3 394.1 1238.2 473.4 1294.4 411.1 1256 456 1194.2 518.5 1179.4 531.8 1201.5 509.3 1293.8 402.5 1304.9 387.6 1181.7 528.7 1157.8 556.8 1297.6 402.7 1210.5 505.3 1231.7 473.6 1257 428.7 1317 431" fill="none" stroke="none" marker-start="url(#m8)" marker-mid="url(#m8)" marker-end="url(#m8)"/>
<path d="M1265.2 439.9" fill="none" stroke="none" marker-start="url(#m11)" marker-mid="url(#m11)" marker-end="url(#m11)"/>
<path d="M1293.8 409.2 1268 439.1 1274.5 432.5 1275.6 430.6 1259.3 451.2 1299.7 397.1 1307.4 393.8" fill="none" stroke="none" marker-start="url(#m10)" marker-mid="url(#m10)" marker-end="url(#m10)"/>
<path d="M1306 394.8 1267.3 438.9" fill="none" stroke="none" marker-start="url(#m11)" marker-mid="url(#m11)" marker-end="url(#m11)"/>
<path d="M1294.6 411.1" fill="none" stroke="none" marker-start="url(#m10)" marker-mid="url(#m10)" marker-end="url(#m10)"/>
<path d="M1267 437.9" fill="none" stroke="none" marker-start="url(#m11)" marker-mid="url(#m11)" marker-end="url(#m11)"/>
<path d="M1303.4 401.2" fill="none" stroke="none" marker-start="url(#m10)" marker-mid="url(#m10)" marker-end="url(#m10)"/>
<path d="M1288.8 417.1" fill="none" stroke="none" marker-start="url(#m11)" marker-mid="url(#m11)" marker-end="url(#m11)"/>
<path d="M1291 415.8 1292.1 413" fill="none" stroke="none" marker-start="url(#m10)" marker-mid="url(#m10)" marker-end="url(#m10)"/>
<path d="M1343.7 356.7 1327 374.1 1337.2 356.2 1333.5 366.9 1340.1 357.8 1339.6 358.7 1330.9 365.5 1336.8 366.5 1348.3 350.7 1327.2 371.8 1347.1 350 1335.4 363.3 1326.4 373.4 1338.5 362.1 1337.7 362.1 1368.7 327.1 1379.6 318.5 1399 296.9 1384.3 306.5 1384.5 309.8 1396.3 293.4 1354.1 340.5 1387 306 1358.9 336 1369 328.1 1375.2 319.4 1381.9 312.4 1357.5 339.5 1377.9 320.3 1373.3 322.8 1459.4 227.6 1478.3 206.4 1477.1 206.2 1477.4 207.4 1464.2 221.7 1441 246.5 1505.6 178.2 1491 194.6 1457.6 229.2 1431.5 259.2 1457.6 231.4 1448.4 241.1 1509.6 170.8 1471.3 215.8 1510.1 171.6 1478 205.6 1458.3 226.9 1481.2 205 1433.3 258.1 1474.1 211.1 1425.5 264.9 1422.3 265.4 1439.1 250.9 1438.3 250.8 1464.3 219.9 1481.5 204.1 1429.2 261.6 1510.7 172.5 1517.6 163.6 1433.6 261.5 1457.2 229 1464.1 224.4 1420.6 267.2 1471.5 216.1 1466.7 220.4 1472.5 213.1 1467.7 220.3 1481.4 202.8 1484.4 200.8 1502.1 181.1 1499.9 183.1 1502.3 177.3 1447.5 241.8 1444.8 243.2 1515 166.1 1461.8 223.7 1433.8 255.1 1464.2 221.2 1492.4 191.9 1498 183.1 1516.4 165.1 1475.9 209 1514.1 167.8 1451.7 236.7 1436 253.7 1431.3 258.4 1496.3 188.9 1472.4 212.7 1466.6 218.2 1458.1 228.8 1502.6 181.2 1457.7 231.9 1438 253.9 1438.3 251.3 1468.9 218.8 1505.9 178.8 1514.5 166.6 1462.2 226.6 1473.4 213 1504.9 177.7 1469.1 217.8 1440.3 249.5 1447.3 238.5 1425.8 264.7 1440 249.3 1517.4 163.1 1514.9 167 1461.4 225 1452.7 234 1420.5 270.2 1421.8 266.3 1433 257.2 1423.1 268.2 1506.6 176.3 1432.6 257.8 1447.5 240.2 1449.9 237.4 1460 224.8 1463.4 221 1469.5 215.6 1438.7 251.6 1470.7 215.3 1497.3 187.8 1484.1 201.5 1504.5 176.8 1503.7 178.3 1488.5 194.3 1426.6 261.8 1487.5 197.1 1445.2 244.2 1496.6 185.7 1474.4 212.6 1515.5 170.9 1421.4 266.1 1423.9 267.1 1480.5 203.3 1505.2 177.4 1455.1 233 1506 174.1 1497.1 188.2 1467.9 216.1 1505.5 177.2 1500.6 181.9 1448 247.7 1508.1 169.6 1438.3 250.2 1423.9 270.8 1433.9 257.9 1486.8 198.8 1492.1 190.8 1448.1 240.5 1426.6 261.6 1440.2 250.2 1453.8 234.4 1471.8 215.1 1513.2 168.2 1452.5 236.2 1472.5 214.4 1459.8 226 1463.9 223.1 1455.9 231.5 1507.7 180.3 1426.4 262.3 1456.5 231.4 1471.7 213.9 1578 98 1571.8 103.2 1576.7 99 1535.8 144.4 1560.2 116.1 1537.3 141.3 1555 120.9 1550.8 128.5 1531.5 147.4 1574.4 100.3 1552.6 125.3 1548.8 129 1531.6 147.4 1543 136.3 1542.9 136.1 1544.5 133.3 1561.8 114.6 1540.3 140.6 1570.5 105.9 1558.2 118.5 1530.6 149.3 1566.9 110.3 1555.1 125.1 1560.1 115.5 1541 138.6 1558.7 117.9 1575.4 100.7 1566.5 109.4 1576.7 97.9 1571.1 104 1559.2 117.5 1571.4 105.1 1572.7 105.8 1532.6 146 1558.4 117.9 1557.5 119.3 1534.1 147.7 1535.9 145.7 1537.6 143.7 1553.3 125.4 1535.8 143.8 1528 150.8 1560.5 116.8 1559 118.8 1527.9 151.9 1556.3 120.5 1536.8 141.2 1569.9 107 1532.1 147.7 1569.7 107.9 1587 90 1591 86 1609 64.5 1525 172 1568 108" fill="none" stroke="none" marker-start="url(#m9)" marker-mid="url(#m9)" marker-end="url(#m9)"/>
<path d="M1250.5 454.4 1299.8 401.2 1289.7 414.8 1295.6 399.7 1295.4 409.3 1276.6 431 1250.6 460.6" fill="none" stroke="none" marker-start="url(#m10)" marker-mid="url(#m10)" marker-end="url(#m10)"/>
<path d="M1265.4 441.9" fill="none" stroke="none" marker-start="url(#m11)" marker-mid="url(#m11)" marker-end="url(#m11)"/>
<path d="M1246 461 1299.3 402.3 1282 421.7 1285.7 416.5 1295.7 406.5 1187 526.2 1178.4 535.5 1211.2 502.4 1212.4 498.4 1199.9 510.5 1215.5 496.1 1179.2 534.1 1185.6 530 1182.9 534 1234.9 476.2 1214.5 494.7 1232 479.2 1230.1 477.3 1194.8 517.2 1179.1 537.4 1171.3 544.3 1170.7 548.6 1240.7 469.4 1228 482 1178.1 538.9 1219.3 491.3 1218.8 494.5 1163.4 547.6 1180.3 533.8 1173.1 539.8 1214.9 495.6 1174.2 539.3 1188.7 529 1178.5 537.2 1214.8 495.8 1274.6 429.2 1287.9 411.3 1304.1 394.5 1303.4 403.6 1264.8 442.3 1256.6 450.8" fill="none" stroke="none" marker-start="url(#m10)" marker-mid="url(#m10)" marker-end="url(#m10)"/>
<path d="M1265.6 440" fill="none" stroke="none" marker-start="url(#m11)" marker-mid="url(#m11)" marker-end="url(#m11)"/>
<path d="M1295.6 404 1271.2 434.8" fill="none" stroke="none" marker-start="url(#m10)" marker-mid="url(#m10)" marker-end="url(#m10)"/>
<path d="M1311.7 391 1263.3 441.7 1209.2 502 1271.2 433.3 1199.1 505 1190.4 521.8 1256.9 448.2 1254.8 445.4 1208.6 495.9 1223.6 484.5 1256.4 449.2 1192 519.5 1186.7 524.4 1265.6 439 1212.2 499.4 1197.4 513.4 1209.2 505.5 1199.9 512.3 1266.4 440.3 1262 442 1186 525.9 1260.9 438.5 1192.2 524.1 1260.6 443.6 1241.7 463.2 1205.5 506.3 1261.7 444.7 1248.2 460.1 1265.7 440.1 1223.3 487 1252.2 452.6 1260.7 439.7 1260.4 444.2 1243.7 461.7 1258.9 445.4 1198.7 515.9 1226 480.3 1197.2 510.3 1228.7 478.6 1196.1 515.2 1246.2 459.3 1229.9 475.4 1190.8 519.6 1241.9 461.4 1240.7 468.6 1254.5 446.8 1260.2 440.2 1208.9 499.3 1225.9 479.6 1230.8 476.9 1186.2 529.7 1210.7 497.7 1231.8 476.7 1257 447.8 1247.5 457.4 1263.8 438.5 1240.2 465.3 1243.2 464.7 1258 448.2 1262.1 444.2 1240.1 465.2 1204 504.9 1238 473.4 1188.7 522.9 1226.2 480.2 1237.7 466.5 1197.8 516.7 1199 515.4 1236.4 472.1 1242.3 466.4 1270.4 433.3 1248.2 461.8 1251.3 452.1 1272.1 439.2 1239.1 467.2 1240.8 461.9 1255.4 437.2 1264 443.3 1237.5 471.6 1223.7 486.6 1188.1 523.8 1266 440.1 1244 459.9 1240.5 466.7 1216.5 499.1 1199.5 513.9 1246.8 454.8 1231.4 473.3 1208.2 503.7 1203.6 507.8 1236.1 472.5 1245.6 461.1 1188.4 524.5 1187.7 525.5 1256.8 450.6 1197.5 511 1213.7 494.3 1221.2 490.1 1234.3 475.7 1253.6 450.2 1229.9 481.8 1194 518.8 1264 442.7 1196.9 513.9 1215.7 492 1270.2 434 1255.5 450 1189.3 520.3 1228.2 480.2 1216.2 493.3 1184.5 524.4 1226.1 480.6 1212.8 496.6 1201.8 513.7 1185.6 528.2 1269.4 437.3 1250.4 453.4 1256.5 449.4 1229.4 479.5 1218.6 492.3 1229 475.8 1265.3 437.1 1257.9 445.2 1266.1 440.8 1202.2 509.1 1242 463 1228.1 481.1 1260.9 442.5 1228.1 477 1199.6 511.6 1241.6 467.1 1237.3 466.3 1223.2 486.1 1264.9 438.1 1193.7 515.3 1245.5 462.4 1244.5 460 1258.5 447.3 1260.5 445.3 1221.8 485.5 1195.5 515.4 1228.4 479.5 1189.6 523.7 1194.2 515.8 1243.9 459.9 1216.8 492.9 1196.4 512.3 1187.7 523.4 1269.8 433.3 1202.4 508.6 1265.3 436.8 1215.7 493.5 1191.2 521.1 1188.1 526.8 1239.5 467.6 1196.3 518.1 1205 506.3 1230.8 478.6 1245.4 458.8 1259.4 444.5 1263.3 442.5 1190.5 519.2 1257.9 450.6 1200.5 510.7 1200.5 515.8 1195.6 519.9 1238.6 469.8 1259.9 449.7 1248.6 457.9 1224.3 485.1 1189.8 522.6 1248.6 457.7 1245.3 463.4 1226.7 481.4 1185.1 524.5 1209.9 499.2 1213.5 496.1 1213.8 497.6 1211.8 496.5 1257 450.6 1256 447.9 1227.6 482.5 1226.7 482.1 1213.3 501 1230.7 478.5 1202.9 510.2 1269.1 434.4 1207.1 499.1 1221.4 491.7 1258.4 446.9 1253.1 451.1 1200.7 509.9 1242.3 460.6 1212.6 494.2 1212.1 496.2 1233.4 473.8 1244.4 462.1 1191.3 520.4 1233.9 476.9 1258.5 442.5 1214.9 492.2 1239.8 469.5 1249.7 457.3 1255.9 446.9 1230.9 477.2 1269.2 433.9 1213.5 496.8 1228 480.1 1212.3 497 1234 470.6 1250 455 1184 526.4 1270.6 432.5 1256 451 1241.3 466 1199.3 517.7 1219.1 491.2 1207.2 500.3 1216.2 492.3 1211.8 499.7 1188 526.3 1191 515.9 1186.4 523.4 1232 476.2 1202.7 513.9 1256.4 448.4 1255.1 449.8 1187.2 525 1252.8 454.4 1207.6 503.1 1203.6 505.3 1216.9 491 1186.9 528.7 1181.3 525.4 1257.6 448.4 1204.6 507.8 1212 498.6 1198.4 512.8 1251.5 453.9 1197.6 511.7 1206.2 502.5 1221.9 484.1 1215.4 486.8 1245.6 463 1264.1 441.4 1228.6 479.8 1196.4 513.5 1259.6 446.1 1229.9 476.9 1215.4 491.7 1269.1 431.9 1222 486.7 1193.6 515.7 1245.1 464 1194.2 516.1 1238.4 466.7 1264.9 441 1218.5 493.3 1255 451.5 1267.1 438.8 1219.5 493.3 1191.7 517.1 1232.7 472.3 1259.1 445.9 1255.7 448.8 1199.2 512.1 1212.9 499 1230.4 477.3 1264.6 436.2 1207.4 508.5 1267.8 434.1 1263.8 431.9 1227.5 482.9 1247.2 460.5 1230.1 475.3 1231.9 475.8 1223.6 483.2 1232.6 466.2 1235.4 469 1257.5 447.9 1239.6 466.6 1243.5 464.2 1202.2 507.4 1256 455.4 1243.5 461 1197.7 516 1195.7 514.9 1218.2 491.8 1253 448.4 1218.7 488 1203.7 504.1 1261.8 439.4 1254.5 449.6 1190.5 524.3 1257.8 443.8 1209.6 503.1 1218.9 496.6 1249 456.9 1203 504.4 1222.6 486.2 1232.6 475.9 1268.4 436.4 1231.4 476.4 1235.2 472 1268.7 437.9 1252.7 456.3 1194.3 519.4 1211.8 499.4 1266.1 436.6 1251.1 454.7 1237.4 467.7 1196.7 514.4 1202.1 504.9 1240.6 462 1220.8 486.7 1192.7 522.3 1256.9 448.4 1255.1 452.5 1247.5 462.3 1270.5 434.1 1183.7 526.9 1194.5 517 1247 458.1 1237.9 470.1 1264.7 438.5 1218.1 493.7 1243.7 465.1 1207 504.9 1253.3 452.5 1209.7 501.2 1185.3 525.4 1227.4 481.1 1247.4 460.8 1195.3 520.4 1196.9 513.3 1226.5 481.3 1220.1 484 1251.1 457.6 1189.7 521.4 1228.7 482.5 1207.6 498.2 1214.8 496.6 1196.3 514.1 1203.5 507.1 1211.5 500.2 1271.6 433.9 1206.7 507.1 1262.7 442.1 1212.3 502.6 1246.6 461.5 1235.2 468.5 1232.1 473.8 1183.6 527 1237.8 469.1 1240.7 464.7 1218 491.6 1236.7 473.2 1257.3 444.7 1224.7 482.3 1189.8 525.7 1256.4 452.7 1229.4 482.6 1241 466.4 1259.2 448.6 1205.7 505.4 1249.2 460.9 1252 452.4 1230.9 478.4 1252 453.9 1225.9 480.4 1251.3 451.5 1270.6 434.2 1216.1 493.6 1216.2 491.8 1211.7 501.2 1248.9 456.1 1238.1 468 1220.9 487.9 1260.6 444.1 1235.6 470.3 1259.9 440.8 1187.3 529.8 1254.1 452.7 1271.6 433 1207.3 501.6 1244 463.8 1251.7 455.1 1267.7 435.1 1200.3 512.2 1211.3 499.8 1184.4 527.2 1195.8 513.8 1240.3 465.2 1200 509.6 1253 453.1 1227.7 482.5 1236.3 470.8 1218.1 489.2 1234.8 475.1 1246.7 458.9 1223 490.2 1241 464.4 1222.8 482.6 1216.5 493.4 1242.1 463.6 1211 500.5 1194.6 516.9 1221.1 485.1 1204 508.8 1214.9 492.3 1204 511.2 1240.2 465.5 1192.1 519.1 1190.7 520.4 1246.1 463.2 1233.5 478.2 1247.1 458.4 1242.5 465.2 1241.4 463.4 1192.9 520.7 1245.8 455.6 1170.4 541.2 1178.3 536.8 1186.5 530.1 1175.3 535 1189.5 524.5 1182.7 533.2 1177.7 537.8 1185.7 528.8 1173.3 537.4 1184.9 529.1 1182.5 528.4 1178.6 534.3 1179.4 535.3 1189.3 525.9 1189.1 525.4 1180.3 536.9 1174.5 538.2 1185.4 530.1 1178.3 536.5 1188.5 524 1173.2 541.2 1169.5 547.7 1188.4 527.8 1179.3 532.3 1175.5 542.9 1181.8 530.7 1181 533.5 1168.9 547.4 1184.1 529.4 1169.2 541.9 1175.8 538.3 1177.7 538.3 1183.7 529.7 1167.3 549.8 1189.3 524.5 1190 524.7 1183.9 532.2 1189.7 529 1179.9 536.2 1182.8 534.5 1185.9 527.8 1184.7 531 1175.2 537.4 1186.2 529.6 1184 532.4 1297.3 404" fill="none" stroke="none" marker-start="url(#m11)" marker-mid="url(#m11)" marker-end="url(#m11)"/>
<path d="M1318.6 383.8 1295 404.6 1305.6 393.2 1269.1 434.9" fill="none" stroke="none" marker-start="url(#m10)" marker-mid="url(#m10)" marker-end="url(#m10)"/>
<path d="M1286.4 416" fill="none" stroke="none" marker-start="url(#m11)" marker-mid="url(#m11)" marker-end="url(#m11)"/>
<path d="M1257.8 451.4 1311.1 391.6 1285.8 416.4 1315.7 387.2" fill="none" stroke="none" marker-start="url(#m10)" marker-mid="url(#m10)" marker-end="url(#m10)"/>
<path d="M1281.3 425.3" fill="none" stroke="none" marker-start="url(#m11)" marker-mid="url(#m11)" marker-end="url(#m11)"/>
<path d="M1313 388.5" fill="none" stroke="none" marker-start="url(#m10)" marker-mid="url(#m10)" marker-end="url(#m10)"/>
<path d="M1416.5 274.2 1403.6 290.3 1421.8 268.9 1409.7 281.6 1397.1 297.7 1404.3 285.2 1411.1 275.9 1415.2 273.7 1403.1 286.7 1401.4 291.1 1412.3 277.3 1392.1 301 1409.9 277.2 1403.8 292.2 1412.4 280.2 1390.9 300.8 1397.7 296.1 1400 295.8 1400.1 294.8 1420.8 269.8 1417.9 274.6 1392.9 302.7 1406.6 282.7 1418.7 268.9 1415.1 274.9 1391.8 304.2 1415.2 279.7 1414.9 276.8 1420.6 273.9 1409.4 284.9 1403.4 289 1394.2 297.4 1407.9 282.7 1398.4 294.9 1400.2 296 1407.5 286.6 1389.9 300.8 1403.6 285.9 1398.3 296.7 1404.5 288.4 1394.1 297.1 1414.4 278.6 1419.1 275.1 1412.8 280.7 1418.7 272.6" fill="none" stroke="none" marker-start="url(#m3)" marker-mid="url(#m3)" marker-end="url(#m3)"/>
<path d="M1322.4 380.2 1327.1 373.2 1335.9 357.8 1326.7 371.8 1329.6 368 1337.5 360.9" fill="none" stroke="none" marker-start="url(#m2)" marker-mid="url(#m2)" marker-end="url(#m2)"/>
<path d="M1320.3 380.5 1332.3 362.2 1328.4 370 1326.3 374.6 1330.7 365.4 1337.4 362.5 1331.7 366.1 1342 363.3 1329 369.4 1337.6 362.6 1328.2 373.3 1326.2 374 1332.3 367.8 1335.8 362.3 1323.7 376.8" fill="none" stroke="none" marker-start="url(#m7)" marker-mid="url(#m7)" marker-end="url(#m7)"/>
<path d="M1335 367.6 1330.2 371.6 1337.6 360.1 1321.9 380.1 1335.2 363.7 1334.2 367.3 1339.3 363.2 1334.8 364 1330.3 371.6 1326.4 377.7 1321.7 379.8 1337.7 357.9" fill="none" stroke="none" marker-start="url(#m8)" marker-mid="url(#m8)" marker-end="url(#m8)"/>
<path d="M1422 266 1405.6 284.5 1403.8 288 1405.5 287.8 1417.7 272.2 1425.2 267.9 1410.2 282.5" fill="none" stroke="none" marker-start="url(#m9)" marker-mid="url(#m9)" marker-end="url(#m9)"/>
<path d="M1337.3 355.4 1326.9 370.1 1329.6 371.9 1337.6 360.8 1337.8 360.9 1323.9 375.7 1334.6 360.9 1322.5 376.8 1333.8 366.7 1341.2 358.7 1330.8 366 1327.1 373" fill="none" stroke="none" marker-start="url(#m11)" marker-mid="url(#m11)" marker-end="url(#m11)"/>
<g stroke="#737373" stroke-width="1.7" fill="none"><path d="M117.1 8.3V732.8H772.7"/><path d="M995.2 8.3V735.5H1659.3"/></g>
<path d="M104.5 98.5H117.1 M104.5 234.3H117.1 M104.5 370.2H117.1 M104.5 506.0H117.1 M104.5 641.8H117.1 M149.9 732.8V744.4 M269.0 732.8V744.4 M388.2 732.8V744.4 M507.3 732.8V744.4 M626.5 732.8V744.4 M745.6 732.8V744.4 M983 44.3H995.2 M983 175.4H995.2 M983 306.4H995.2 M983 437.5H995.2 M983 568.5H995.2 M983 699.5H995.2 M1028.0 735.5V747.2 M1147.7 735.5V747.2 M1267.4 735.5V747.2 M1387.1 735.5V747.2 M1506.8 735.5V747.2 M1626.5 735.5V747.2" stroke="#1a1a1a" stroke-width="1.9" fill="none"/>
<path d="M117.3 725.6L772.7 128.4" stroke="#1a1a1a" stroke-width="1.9" fill="none"/>
<path d="M997.2 734.8L1659.3 8.3" stroke="#1a1a1a" stroke-width="1.9" fill="none"/>
<text class="t" x="103.5" y="107.5" text-anchor="end">1500</text>
<text class="t" x="103.5" y="243.3" text-anchor="end">1250</text>
<text class="t" x="103.5" y="379.2" text-anchor="end">1000</text>
<text class="t" x="103.5" y="515.0" text-anchor="end">750</text>
<text class="t" x="103.5" y="650.8" text-anchor="end">500</text>
<text class="t" x="148.6" y="762" text-anchor="middle">400</text>
<text class="t" x="267.7" y="762" text-anchor="middle">600</text>
<text class="t" x="386.9" y="762" text-anchor="middle">800</text>
<text class="t" x="506.0" y="762" text-anchor="middle">1000</text>
<text class="t" x="625.2" y="762" text-anchor="middle">1200</text>
<text class="t" x="744.3" y="762" text-anchor="middle">1400</text>
<text class="t" x="981.5" y="52.6" text-anchor="end">1400</text>
<text class="t" x="981.5" y="183.7" text-anchor="end">1200</text>
<text class="t" x="981.5" y="314.7" text-anchor="end">1000</text>
<text class="t" x="981.5" y="445.8" text-anchor="end">800</text>
<text class="t" x="981.5" y="576.8" text-anchor="end">600</text>
<text class="t" x="981.5" y="707.8" text-anchor="end">400</text>
<text class="t" x="1027.5" y="765" text-anchor="middle">400</text>
<text class="t" x="1147.2" y="765" text-anchor="middle">600</text>
<text class="t" x="1266.9" y="765" text-anchor="middle">800</text>
<text class="t" x="1386.6" y="765" text-anchor="middle">1000</text>
<text class="t" x="1506.3" y="765" text-anchor="middle">1200</text>
<text class="t" x="1626.0" y="765" text-anchor="middle">1400</text>
<text class="p" x="13" y="29.8">A</text>
<text class="p" x="886" y="29.8">B</text>
<text class="s" x="439.2" y="815" text-anchor="middle">PhyC IBI 2sW (ms)</text>
<text class="s" x="1351.7" y="815" text-anchor="middle">PhyC IBI 5sW (ms)</text>
<text class="s" transform="translate(22.9 431.1) rotate(-90)" text-anchor="middle" textLength="185" lengthAdjust="spacingAndGlyphs">ECG IBI 2sW (ms)</text>
<text class="s" transform="translate(903.6 378.8) rotate(-90)" text-anchor="middle" textLength="185" lengthAdjust="spacingAndGlyphs">ECG IBI 5sW (ms)</text>
<text class="s" x="673" y="669.6" text-anchor="middle">y = 0.99x + 12.51</text>
<text class="s" x="673.7" y="696.4" text-anchor="middle">R² = 0.99</text>
<text class="s" x="1513.7" y="661.6" text-anchor="middle">y = 1.00x - 4.13</text>
<text class="s" x="1514.1" y="687.6" text-anchor="middle">R² = 1.00</text>
<text class="t" x="1671.8" y="38.3" style="font-size:22.5px" textLength="73" lengthAdjust="spacingAndGlyphs">Subject</text>
<circle cx="1671.9" cy="63.5" r="7.6" fill="none" stroke="#3E58AC" stroke-width="1.8"/>
<text class="l" x="1684.3" y="71.5" textLength="65" lengthAdjust="spacingAndGlyphs">VPG001</text>
<circle cx="1671.9" cy="85.8" r="7.6" fill="none" stroke="#2EB848" stroke-width="1.8"/>
<text class="l" x="1684.3" y="93.8" textLength="65" lengthAdjust="spacingAndGlyphs">VPG003</text>
<circle cx="1671.9" cy="108.1" r="7.6" fill="none" stroke="#D3CE97" stroke-width="1.8"/>
<text class="l" x="1684.3" y="116.1" textLength="65" lengthAdjust="spacingAndGlyphs">VPG004</text>
<circle cx="1671.9" cy="130.4" r="7.6" fill="none" stroke="#7C287D" stroke-width="1.8"/>
<text class="l" x="1684.3" y="138.4" textLength="65" lengthAdjust="spacingAndGlyphs">VPG005</text>
<circle cx="1671.9" cy="152.7" r="7.6" fill="none" stroke="#FBF873" stroke-width="1.8"/>
<text class="l" x="1684.3" y="160.7" textLength="65" lengthAdjust="spacingAndGlyphs">VPG006</text>
<circle cx="1671.9" cy="175.0" r="7.6" fill="none" stroke="#EF3338" stroke-width="1.8"/>
<text class="l" x="1684.3" y="183.0" textLength="65" lengthAdjust="spacingAndGlyphs">VPG009</text>
<circle cx="1671.9" cy="197.3" r="7.6" fill="none" stroke="#48C2C5" stroke-width="1.8"/>
<text class="l" x="1684.3" y="205.3" textLength="65" lengthAdjust="spacingAndGlyphs">VPG010</text>
<circle cx="1671.9" cy="219.6" r="7.6" fill="none" stroke="#CCCCCC" stroke-width="1.8"/>
<text class="l" x="1684.3" y="227.6" textLength="65" lengthAdjust="spacingAndGlyphs">VPG013</text>
<circle cx="1671.9" cy="241.9" r="7.6" fill="none" stroke="#7AAAD5" stroke-width="1.8"/>
<text class="l" x="1684.3" y="249.9" textLength="65" lengthAdjust="spacingAndGlyphs">VPG015</text>
<circle cx="1671.9" cy="264.2" r="7.6" fill="none" stroke="#12663A" stroke-width="1.8"/>
<text class="l" x="1684.3" y="272.2" textLength="65" lengthAdjust="spacingAndGlyphs">VPG017</text>
<circle cx="1671.9" cy="286.5" r="7.6" fill="none" stroke="#F8981D" stroke-width="1.8"/>
<text class="l" x="1684.3" y="294.5" textLength="65" lengthAdjust="spacingAndGlyphs">VPG018</text>
<circle cx="1671.9" cy="308.8" r="7.6" fill="none" stroke="#DDBAF1" stroke-width="1.8"/>
<text class="l" x="1684.3" y="316.8" textLength="65" lengthAdjust="spacingAndGlyphs">VPG019</text>
</svg></body></html>
